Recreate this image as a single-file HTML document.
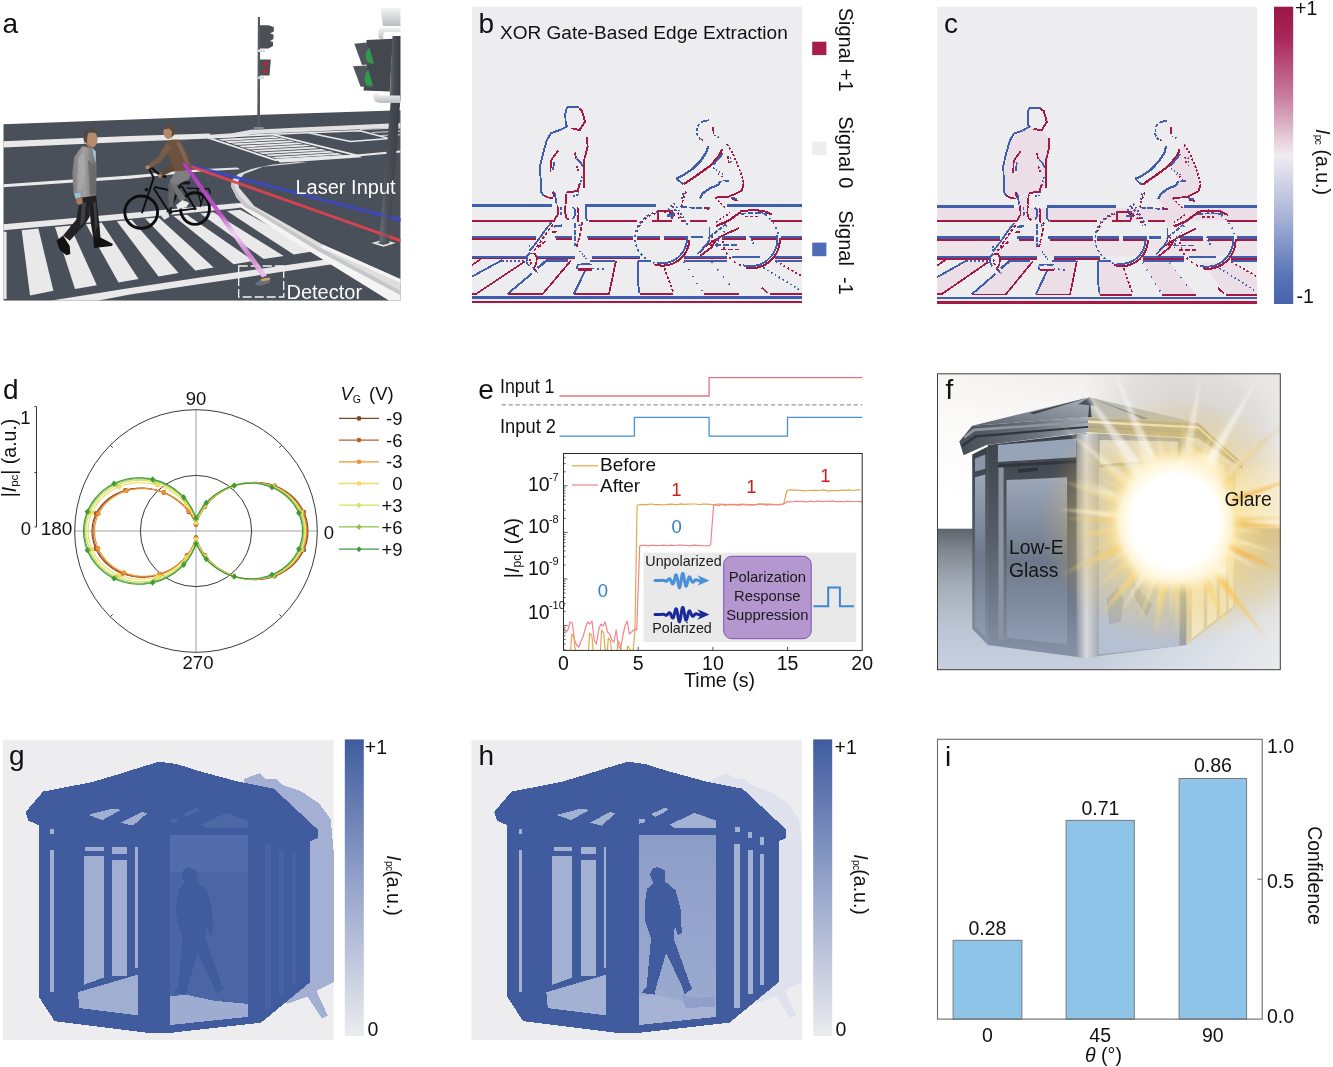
<!DOCTYPE html>
<html lang="en">
<head>
<meta charset="utf-8">
<title>Figure</title>
<style>
html,body{margin:0;padding:0;background:#fff;}
body{width:1333px;height:1067px;overflow:hidden;}
svg{display:block;font-family:"Liberation Sans",sans-serif;fill:#111;}
.pl{font-size:28px;}
.it{font-style:italic;}
</style>
</head>
<body>
<svg width="1333" height="1067" viewBox="0 0 1333 1067">
<rect x="0" y="0" width="1333" height="1067" fill="#ffffff"/>
<!-- panel a -->
<g id="panel-a">
<defs>
<clipPath id="aclip"><rect x="3.3" y="0" width="397.4" height="300.8"/></clipPath>
<linearGradient id="abeam" gradientUnits="userSpaceOnUse" x1="183" y1="163" x2="265" y2="277"><stop offset="0" stop-color="#b23cc2"/><stop offset="0.45" stop-color="#c052c8"/><stop offset="0.62" stop-color="#f3d3f0"/><stop offset="0.8" stop-color="#d684d6"/><stop offset="1" stop-color="#f2c6ee"/></linearGradient>
<linearGradient id="apole" x1="0" y1="0" x2="1" y2="0"><stop offset="0" stop-color="#6a7077"/><stop offset="0.35" stop-color="#4c5157"/><stop offset="1" stop-color="#393d43"/></linearGradient>
<linearGradient id="apipe" x1="0" y1="0" x2="0" y2="1"><stop offset="0" stop-color="#f4f4f4"/><stop offset="1" stop-color="#b9bcc0"/></linearGradient>
<linearGradient id="ajacket" x1="0" y1="0" x2="1" y2="0"><stop offset="0" stop-color="#7d7d7d"/><stop offset="0.5" stop-color="#a0a0a0"/><stop offset="1" stop-color="#6d6d6d"/></linearGradient>
</defs>
<g clip-path="url(#aclip)">
<path d="M3.3 124.2L200 116.9L400.7 110.3V300.8H3.3Z" fill="#4a5059"/>
<path d="M205 135L232 133.2L250.8 129.8L300 127.6L400.7 123V127.6L300 132L252 134.2L236 137.2L210 138.5Z" fill="#e2e2e4"/>
<path d="M3.3 141.2L130 135.9L210 133.4V138.6L130 141.8L3.3 147.6Z" fill="#e9e9ea"/>
<path d="M3.3 184.2L130 175.6L200 169.2L237 167.4L240 169.2L200 171.6L130 178.8L3.3 187.3Z" fill="#e9e9ea"/>
<path d="M207.7 137.7L272.3 134.3L356.9 155.4L275.4 160Z" fill="none" stroke="#e9e9ea" stroke-width="1.8"/>
<path d="M218.2 139.1L273.9 136.2L279.5 137.7L222.9 140.7Z" fill="#e9e9ea"/>
<path d="M224.8 141.3L281.8 138.3L287.4 139.8L229.6 142.9Z" fill="#e9e9ea"/>
<path d="M231.5 143.6L289.7 140.4L295.3 141.9L236.2 145.1Z" fill="#e9e9ea"/>
<path d="M238.2 145.8L297.6 142.5L303.2 144.0L242.9 147.4Z" fill="#e9e9ea"/>
<path d="M244.8 148.0L305.5 144.6L311.1 146.1L249.6 149.6Z" fill="#e9e9ea"/>
<path d="M251.5 150.2L313.4 146.7L319.1 148.2L256.2 151.8Z" fill="#e9e9ea"/>
<path d="M258.2 152.4L321.4 148.9L327.0 150.4L262.9 154.0Z" fill="#e9e9ea"/>
<path d="M264.8 154.7L329.3 151.0L334.9 152.5L269.6 156.2Z" fill="#e9e9ea"/>
<path d="M271.5 156.9L337.2 153.1L342.8 154.6L276.2 158.4Z" fill="#e9e9ea"/>
<path d="M275.4 159L356.9 154.4L362 157.2L300 161.6L280 162.6Z" fill="#e9e9ea"/>
<path d="M307.7 132.8L360 130.8L389.2 138.5L350.7 141.5Z" fill="none" stroke="#e9e9ea" stroke-width="1.4"/>
<path d="M272.3 134.3L307.7 132.8" stroke="#e9e9ea" stroke-width="1.4"/>
<path d="M356.9 155.4L400.7 151.5" stroke="#e9e9ea" stroke-width="2"/>
<path d="M360 129.5L400.7 127.8M372 132.5L400.7 131.2M380 135.5L400.7 134.6" stroke="#c9cacc" stroke-width="1.2"/>
<path d="M3.3 224.3L130 213L233.6 203.6L247 202.5L249.5 206.5L233.6 208.6L130 218.7L3.3 230.2Z" fill="#e9e9ea"/>
<path d="M3.3 231.8H6.6V299H3.3Z" fill="#e9e9ea"/>
<path d="M21.7 230.2L38.4 228.6L53.4 290.8L30 295.4Z" fill="#e9e9ea"/>
<path d="M55 227.1L70 225.7L96.8 285.2L75 288.9Z" fill="#e9e9ea"/>
<path d="M86 224.2L101.8 222.7L138.5 279L118.5 282.4Z" fill="#e9e9ea"/>
<path d="M116.8 221.3L131.8 219.9L178.6 273L158.5 276.4Z" fill="#e9e9ea"/>
<path d="M145.2 218.6L158.5 217.4L213.6 267.4L195.3 270.4Z" fill="#e9e9ea"/>
<path d="M173.6 216.0L186.9 214.7L253.7 261L233.6 264.2Z" fill="#e9e9ea"/>
<path d="M200.3 213.5L213.6 212.2L283.7 256L263.7 259Z" fill="#e9e9ea"/>
<path d="M227 211.0L240.3 209.7L315.4 251L293.7 254.6Z" fill="#e9e9ea"/>
<path d="M50 300.8L130 288L200 277.6L336 258L344 262.5L200 284L130 294.5L97.4 300.8Z" fill="#e9e9ea"/>
<path d="M236 204L246.2 211L280 233L330 264L389.3 300.8H400.7V293L316.7 249L258.6 213.5L245.5 206.5Z" fill="#f4f4f4"/>
<path d="M296.3 162.3L273.1 164.5L251.3 168.9L238.2 174L231.7 180.5L231 186.3L236.8 197.9L245.5 207.4L258.6 213.9L316.7 250.2L400.7 295.3V279.3L322.5 244.4L276 218.3L254.2 205.9L247.7 197.9L239 187.8L238.2 181.2L244.1 174L262.9 166.7L308 162.3Z" fill="#dedede"/>
<path d="M231.7 180.5L231 186.3L236.8 197.9L245.5 207.4L258.6 213.9L316.7 250.2L400.7 295.3V291L318 246.5L259.5 211L247.5 204.5L239.5 196L234.2 186L234.8 180.5Z" fill="#c6c7c9"/>
<path d="M322.5 244.4L400.7 279.3V283L321 247.5Z" fill="#f3f3f3"/>
<path d="M183.5 163.8L400.7 220" stroke="#3c49c4" stroke-width="3" opacity="0.92"/>
<path d="M183.5 163.8L400.7 240.7" stroke="#e2434f" stroke-width="3" opacity="0.92"/>
<path d="M371.2 243L383.5 239.7L395.8 243L383.5 246.8Z" fill="#e4e4e4"/><path d="M377 243L383.5 241.3L390 243L383.5 245Z" fill="#50555c"/>
<path d="M391.2 95L400.7 95L389.3 243L379.3 242Z" fill="url(#apole)"/>
<path d="M392.5 36H400.7V100H389.6Z" fill="url(#apole)"/>
<path d="M376 213.5L400.7 220" stroke="#3c49c4" stroke-width="3" opacity="0.55"/>
<path d="M376 231.9L400.7 240.7" stroke="#e2434f" stroke-width="3" opacity="0.55"/>
<g font-size="20px" fill="#fafafa"><text x="295.5" y="193.6">Laser Input</text><text x="286.5" y="298.6">Detector</text></g>
<path d="M238.7 266H283.7V297H238.7Z" fill="none" stroke="#f4f4f4" stroke-width="1.3" stroke-dasharray="9 3"/>
<ellipse cx="263" cy="282.5" rx="8" ry="2.6" fill="#6b6f78" transform="rotate(-12 263 282.5)"/><ellipse cx="265.5" cy="279.3" rx="5" ry="1.4" fill="#caa46a" transform="rotate(-10 265.5 279.3)"/>
<path d="M257.9 17H260V127.6H257.2Z" fill="#565b62"/><path d="M254 127.3H263.5V128.8H254Z" fill="#9a9da2"/>
<path d="M260 25.3H268.5L273.8 27V31.5L270 33.5L273.5 34.5V39L270 41L273 42V46L268.5 48.6H260Z" fill="#4b5057"/>
<path d="M259.4 59.6H270.8L269.5 75.4H259.4Z" fill="#4b5057"/><circle cx="265.6" cy="64" r="2.2" fill="#c5242b"/><circle cx="265.2" cy="71.3" r="2.2" fill="#c5242b"/>
<path d="M258 49.5H265V52H258ZM258 76.5H264V79H258Z" fill="#d9dadc"/>
<path d="M380.5 8H400.7V26H383Z" fill="url(#apipe)"/>
<path d="M378.5 38V32.5Q378.5 27.5 384.5 27.5H400.7V32H385.5Q383.3 32 383.3 34.5V40Z" fill="url(#apipe)"/>
<path d="M373.5 93V96.5Q373.5 103 380 103H400.7V95.5H381.5Q378.5 95.5 378.5 93Z" fill="url(#apipe)"/>
<path d="M366.5 40L392.8 38.8L389.8 91.5L363.5 90.5L366.5 65Z" fill="#43484f"/>
<path d="M354.3 43.8L366.5 42.5L373.5 64L362 65Z" fill="#50555c"/><path d="M353 66.2L366 65.5L372.5 88L360.5 86.5Z" fill="#50555c"/>
<path d="M369.3 47.5Q362.5 55 368 62.5L374 63.8Z" fill="#2f9a4c"/><path d="M368.3 69.5Q361.5 78 367 85.5L373 86Z" fill="#2f9a4c"/>
<g fill="none" stroke="#0e0e0e">
<ellipse cx="141.2" cy="212.2" rx="16.4" ry="16.2" stroke-width="2.9"/><ellipse cx="195" cy="208.6" rx="14.5" ry="15.8" stroke-width="2.9"/>
<path d="M148.4 167.9L153.7 177.7L148 195L141.9 213.2M154.3 186.9L172.7 190.9L181 186M153.7 188.2L168.1 210.6M181.2 183L169.4 211.9M169.4 211.9L195 208.6M181.8 186L195 208.6" stroke-width="1.9"/>
<path d="M147.1 166.6L152 168.2L158 173.5L165.5 177.1" stroke-width="2.2" stroke-linecap="round"/>
<path d="M186.5 188.2L208.8 188.9L210.5 193.5M197 188.6L201.5 205M205.5 189L200 207" stroke-width="1.3"/>
</g>
<path d="M179.3 181L190.4 181.6L190 184.4L180.5 184.6Z" fill="#1a1a1a"/><circle cx="146.5" cy="189.6" r="1.9" fill="#151515"/><circle cx="169.4" cy="211.9" r="2.8" fill="#1c1c1c"/><circle cx="195" cy="208.6" r="1.6" fill="#1c1c1c"/>
<path d="M168.1 183L174.7 185.6L173.4 206.6L168.8 207.9Z" fill="#626468"/>
<path d="M176 170.5L191.1 170.5L189.1 179.1L176 185.6L169.4 181.7Z" fill="#7d7f83"/>
<path d="M169.4 181.7L176.6 185.6L186.5 198.7L180 201.4Z" fill="#707276"/>
<path d="M176 205.3L182.5 200L189.1 202.7L186.5 207.3L178 209.2Z" fill="#e6ecea"/><path d="M160.9 215.8L168.1 211.9L169.4 217.1L164.2 219.7Z" fill="#dde4e2"/>
<path d="M181.2 152.8L186 158L172 171.5L160.5 177L158.6 174.5L170 165Z" fill="#5f4636"/>
<path d="M165.5 142.3L172 139.5L179.9 139.7L186.5 152.8L191.1 164.6L191.7 169.9L176 171.2L172 165.9L168.1 152.8Z" fill="#6e5240"/>
<path d="M176 141L181 143.5L187 157L189.5 166L184 160L179 149Z" fill="#8a6a52" opacity="0.8"/>
<path d="M165.8 143.5L171.5 148L161 161.5L149 169L146.6 166L158 157Z" fill="#7a5b46"/>
<circle cx="147.6" cy="167.3" r="2.1" fill="#b08868"/><circle cx="160" cy="175.7" r="2" fill="#a98062"/>
<ellipse cx="168.6" cy="132.4" rx="5.2" ry="6.6" fill="#b48a6b"/><path d="M164.2 129.5Q165 125 170 125.2Q175.2 125.6 174.8 131.5Q174.5 136 171.5 137L172 131.5L169 128.5Z" fill="#5e4a3a"/>
<path d="M181.8 163.6L186 163L267 275.5L262 277.5Z" fill="url(#abeam)" opacity="0.94"/>
<path d="M80.2 198.7L89.4 201.4L89.4 217.1L85.4 223.7L69.7 240.7L63.1 235.5L76.2 219.7Z" fill="#222224"/>
<path d="M89.4 201.4L95.9 196.1L99.2 222.4L100.5 238.1L93.3 238.1L90.7 222.4Z" fill="#1c1c1e"/>
<path d="M79.5 197L96.2 194.5L96.5 204L89.4 206L80 203Z" fill="#222224"/>
<path d="M82 203L86 202.5L84.5 222L80 226Z" fill="#4a4a4d" opacity="0.8"/><path d="M93 203L96 202L97.5 225L95.5 232Z" fill="#454548" opacity="0.8"/>
<path d="M56.6 240.7L63.1 235.5L69.7 246L70.3 253.9L66.4 255.2L59.8 249.9Z" fill="#121212"/>
<path d="M93.3 238.1L100.5 237.5L113 244L111.7 246L94 248Z" fill="#121212"/>
<path d="M82.2 146.2L87 147L92 148.2L95.3 151.5L96.6 165.9L96.2 195.5L82 197.5L75.6 197.4L73.6 193.5L72.3 172.5L74.3 156.7Z" fill="url(#ajacket)"/>
<path d="M78 158L83 152L85 170L82 190L77 192Z" fill="#b4b4b4" opacity="0.55"/><path d="M88 160L95 166L95.5 194L90 195Z" fill="#5e5e60" opacity="0.6"/>
<path d="M92 147.6L95.9 151.5L95.9 163.3L93.5 156Z" fill="#9ac1d6"/><path d="M74.3 193.5L80.5 192.5L80.8 197.6L75.2 198.4Z" fill="#9ac1d6"/>
<path d="M75.6 198L82.2 197.4L82.8 203L79.5 205L76.5 203Z" fill="#a67c60"/>
<ellipse cx="91.2" cy="139" rx="6.3" ry="8.6" fill="#a8795c"/><path d="M88 133Q91 131.5 96 134L97 143Q95 147 92 147.6Q88 146 87.5 140Z" fill="#b78a6c"/>
<path d="M83.5 139Q82.8 128.6 91 128.3Q98.6 128.4 98 135.5L95.5 132.8L89 132.5Q86.8 134.5 87 141.5L84.8 143.5Z" fill="#4a4a4c"/>
</g>
<text class="pl" x="2.5" y="32.8">a</text>
</g>
<!-- panel b -->
<g id="panel-b">
<rect x="472.0" y="6.7" width="330.0" height="296.7" fill="#ededef"/>
<g id="edges" fill="none" stroke-linejoin="round" shape-rendering="crispEdges">
<path d="M472.0 205.8L551.5 205.8" stroke="#3f5eab" stroke-width="3.00"/>
<path d="M585.4 205.8L656.0 205.8" stroke="#3f5eab" stroke-width="3.00"/>
<path d="M727.0 205.8L802.0 205.8" stroke="#3f5eab" stroke-width="3.00"/>
<path d="M472.0 220.7L554.8 220.7" stroke="#a41a45" stroke-width="1.80"/>
<path d="M588.6 220.7L637.0 220.7" stroke="#a41a45" stroke-width="1.80"/>
<path d="M652.0 220.7L672.0 220.7" stroke="#a41a45" stroke-width="1.80"/>
<path d="M689.5 220.7L707.0 220.7" stroke="#a41a45" stroke-width="1.80"/>
<path d="M770.5 220.7L802.0 220.7" stroke="#a41a45" stroke-width="1.80"/>
<path d="M472.0 237.0L536.3 237.0" stroke="#3f5eab" stroke-width="2.80"/>
<path d="M554.8 237.0L572.0 237.0" stroke="#3f5eab" stroke-width="2.80"/>
<path d="M586.7 237.0L632.6 237.0" stroke="#3f5eab" stroke-width="2.80"/>
<path d="M637.0 237.0L660.0 237.0" stroke="#3f5eab" stroke-width="2.80"/>
<path d="M664.0 237.0L688.0 237.0" stroke="#3f5eab" stroke-width="2.80"/>
<path d="M691.0 237.0L703.0 237.0" stroke="#3f5eab" stroke-width="2.80"/>
<path d="M722.0 237.0L746.0 237.0" stroke="#3f5eab" stroke-width="2.80"/>
<path d="M751.0 237.0L776.0 237.0" stroke="#3f5eab" stroke-width="2.80"/>
<path d="M781.0 237.0L802.0 237.0" stroke="#3f5eab" stroke-width="2.80"/>
<path d="M472.0 239.2L536.3 239.2" stroke="#a41a45" stroke-width="1.80"/>
<path d="M556.0 239.2L572.0 239.2" stroke="#a41a45" stroke-width="1.80"/>
<path d="M588.0 239.2L632.6 239.2" stroke="#a41a45" stroke-width="1.80"/>
<path d="M637.0 239.2L660.0 239.2" stroke="#a41a45" stroke-width="1.80"/>
<path d="M664.0 239.2L688.0 239.2" stroke="#a41a45" stroke-width="1.80"/>
<path d="M722.0 239.2L746.0 239.2" stroke="#a41a45" stroke-width="1.80"/>
<path d="M751.0 239.2L776.0 239.2" stroke="#a41a45" stroke-width="1.80"/>
<path d="M781.0 239.2L802.0 239.2" stroke="#a41a45" stroke-width="1.80"/>
<path d="M472.0 256.8L527.0 256.8" stroke="#3f5eab" stroke-width="1.84"/>
<path d="M537.0 256.8L575.0 256.8" stroke="#3f5eab" stroke-width="1.84"/>
<path d="M592.0 256.8L640.0 256.8" stroke="#3f5eab" stroke-width="1.84"/>
<path d="M684.0 256.8L727.0 256.8" stroke="#3f5eab" stroke-width="1.84"/>
<path d="M732.0 256.8L760.0 256.8" stroke="#3f5eab" stroke-width="1.84"/>
<path d="M775.0 256.8L802.0 256.8" stroke="#3f5eab" stroke-width="1.84"/>
<path d="M472.0 258.4L527.0 258.4" stroke="#a41a45" stroke-width="1.80"/>
<path d="M537.0 258.4L575.0 258.4" stroke="#a41a45" stroke-width="1.80"/>
<path d="M592.0 258.4L640.0 258.4" stroke="#a41a45" stroke-width="1.80"/>
<path d="M684.0 258.4L727.0 258.4" stroke="#a41a45" stroke-width="1.80"/>
<path d="M775.0 258.4L802.0 258.4" stroke="#a41a45" stroke-width="1.80"/>
<path d="M472.0 297.5L802.0 297.5" stroke="#3f5eab" stroke-width="2.30"/>
<path d="M472.0 302.0L802.0 302.0" stroke="#a41a45" stroke-width="2.80"/>
<path d="M587.0 206.0L585.6 208.0L585.6 218.0L587.5 220.7" stroke="#3f5eab" stroke-width="1.80"/>
<path d="M472.0 265.1L481.0 259.0" stroke="#a41a45" stroke-width="1.80"/>
<path d="M472.0 276.6L502.0 260.2" stroke="#3f5eab" stroke-width="1.95"/>
<path d="M502.0 260.7L524.0 260.7" stroke="#3f5eab" stroke-width="1.80" stroke-dasharray="2 2"/>
<path d="M472.0 293.8L476.4 293.8L525.0 261.3" stroke="#a41a45" stroke-width="1.84"/>
<path d="M507.6 293.8L532.0 273.5" stroke="#3f5eab" stroke-width="2.07"/>
<path d="M537.5 268.0L546.5 260.7L568.2 260.7" stroke="#3f5eab" stroke-width="2.53"/>
<path d="M507.6 294.0L542.7 294.0L570.8 260.7" stroke="#a41a45" stroke-width="1.80"/>
<path d="M573.9 293.8L585.4 270.2" stroke="#3f5eab" stroke-width="2.07"/>
<path d="M590.0 260.7L615.4 260.7" stroke="#3f5eab" stroke-width="1.80"/>
<path d="M592.0 268.5L607.0 269.5" stroke="#3f5eab" stroke-width="1.80" stroke-dasharray="2 3"/>
<path d="M573.9 294.0L609.0 294.0L616.0 260.7" stroke="#a41a45" stroke-width="1.80"/>
<path d="M638.2 260.5L638.2 284.0L639.5 293.0" stroke="#3f5eab" stroke-width="1.80"/>
<path d="M638.2 260.8L651.0 260.8" stroke="#3f5eab" stroke-width="1.80"/>
<path d="M640.0 294.2L673.2 294.2" stroke="#a41a45" stroke-width="1.80"/>
<path d="M664.4 267.9L673.2 292.2" stroke="#a41a45" stroke-width="1.80" stroke-dasharray="2.5 2"/>
<path d="M704.3 294.2L739.4 294.2" stroke="#a41a45" stroke-width="1.80"/>
<path d="M770.4 294.2L802.0 294.2" stroke="#a41a45" stroke-width="1.80"/>
<path d="M761.7 287.5L767.7 292.9" stroke="#a41a45" stroke-width="1.80"/>
<path d="M759.6 265.2L798.8 289.5" stroke="#3f5eab" stroke-width="1.80" stroke-dasharray="1.5 3"/>
<path d="M775.8 261.2L801.5 276.0" stroke="#a41a45" stroke-width="1.80" stroke-dasharray="2 2.5"/>
<path d="M684.0 262.0L702.0 291.0" stroke="#3f5eab" stroke-width="1.80" stroke-dasharray="1.2 7"/>
<path d="M712.0 262.0L732.0 288.0" stroke="#3f5eab" stroke-width="1.80" stroke-dasharray="1.2 8"/>
<path d="M684.0 260.8L727.0 260.8" stroke="#3f5eab" stroke-width="1.80"/>
<path d="M775.0 260.8L802.0 260.8" stroke="#3f5eab" stroke-width="1.80"/>
<path d="M578.8 107.4L567.6 107.4L566.0 110.0L565.4 113.6L565.6 124.9L567.4 126.2L560.0 130.0L550.9 133.1L546.8 140.4L544.0 150.0L542.2 156.9L540.2 165.1L540.6 180.0L541.1 191.9L543.7 195.5" stroke="#3f5eab" stroke-width="1.95"/>
<path d="M578.8 108.5L581.9 110.5L583.5 116.0L585.0 121.8L582.0 126.0L579.8 130.0L571.5 128.3" stroke="#a41a45" stroke-width="1.95"/>
<path d="M543.7 195.5L548.0 197.5L553.0 198.1" stroke="#a41a45" stroke-width="1.84"/>
<path d="M587.0 137.3L587.6 146.5L586.0 153.0L584.4 158.9L584.0 175.0L584.4 187.8" stroke="#a41a45" stroke-width="1.84"/>
<path d="M558.1 150.7L554.0 156.0L550.9 161.0L550.4 172.3" stroke="#a41a45" stroke-width="1.80"/>
<path d="M554.2 162.0L553.0 170.3" stroke="#3f5eab" stroke-width="1.80"/>
<path d="M575.0 152.5L576.0 158.5" stroke="#a41a45" stroke-width="1.80"/>
<path d="M577.0 159.0L581.0 163.0L583.0 167.0" stroke="#3f5eab" stroke-width="1.80"/>
<path d="M576.5 166.0L578.5 172.0" stroke="#a41a45" stroke-width="1.80" stroke-dasharray="2 1.5"/>
<path d="M582.0 176.5L579.5 186.0" stroke="#3f5eab" stroke-width="1.80" stroke-dasharray="2 1.5"/>
<path d="M566.4 192.6L577.7 191.0L579.3 184.7" stroke="#a41a45" stroke-width="1.95"/>
<path d="M573.0 196.0L577.5 195.0L579.0 190.0" stroke="#3f5eab" stroke-width="1.80" stroke-dasharray="2 1.5"/>
<path d="M554.5 192.5L555.4 197.0L556.6 204.0" stroke="#3f5eab" stroke-width="1.84"/>
<path d="M553.0 191.5L554.0 197.0" stroke="#a41a45" stroke-width="1.80"/>
<path d="M566.4 194.0L565.6 204.0" stroke="#a41a45" stroke-width="1.84"/>
<path d="M557.5 205.0L558.0 214.0L554.5 220.0" stroke="#a41a45" stroke-width="1.80"/>
<path d="M561.0 207.0L561.5 217.0" stroke="#3f5eab" stroke-width="1.80" stroke-dasharray="3 2"/>
<path d="M565.5 205.0L565.0 212.0L566.5 218.0L569.0 219.5" stroke="#a41a45" stroke-width="1.80"/>
<path d="M551.5 222.5L546.0 229.0L539.0 239.0L532.0 248.0L529.5 251.0" stroke="#3f5eab" stroke-width="1.80"/>
<path d="M553.0 224.5L548.0 231.0L541.0 241.0L536.0 248.0" stroke="#a41a45" stroke-width="1.80" stroke-dasharray="3 2"/>
<path d="M552.0 232.0L557.0 231.5" stroke="#a41a45" stroke-width="1.80"/>
<path d="M554.0 226.5L562.0 225.5" stroke="#3f5eab" stroke-width="2.30"/>
<path d="M545.5 241.0L538.0 247.5L534.0 250.0" stroke="#a41a45" stroke-width="1.80" stroke-dasharray="4 2"/>
<path d="M529.5 245.0L529.5 252.0" stroke="#3f5eab" stroke-width="1.80" stroke-dasharray="2 1.5"/>
<path d="M572.5 207.0L575.0 209.5L575.2 215.0L573.0 219.0" stroke="#3f5eab" stroke-width="1.80"/>
<path d="M577.5 207.5L578.5 213.0L578.0 222.0" stroke="#a41a45" stroke-width="1.80"/>
<path d="M575.2 223.0L575.2 246.0" stroke="#3f5eab" stroke-width="1.80" stroke-dasharray="5 1.5"/>
<path d="M582.0 222.0L580.5 232.0L578.0 243.0L576.5 247.0" stroke="#a41a45" stroke-width="1.80" stroke-dasharray="4 1.5"/>
<path d="M579.0 226.0L581.5 223.0" stroke="#3f5eab" stroke-width="1.80" stroke-dasharray="2 1"/>
<path d="M530.0 253.0L527.0 256.0L526.5 262.0L529.0 266.0" stroke="#3f5eab" stroke-width="1.80"/>
<path d="M531.0 253.5L535.0 253.5L537.0 258.0L536.0 264.0L533.5 268.5L537.0 272.0" stroke="#a41a45" stroke-width="1.80"/>
<path d="M533.0 267.0L535.5 270.5L538.0 272.5" stroke="#3f5eab" stroke-width="1.80" stroke-dasharray="2 1.5"/>
<path d="M530.0 259.0L531.5 265.0" stroke="#a41a45" stroke-width="1.80" stroke-dasharray="2 1.5"/>
<path d="M580.0 251.0L586.0 259.0" stroke="#3f5eab" stroke-width="1.80" stroke-dasharray="1.5 1.5"/>
<path d="M577.0 265.0L583.0 264.0L592.0 264.5" stroke="#3f5eab" stroke-width="1.80"/>
<path d="M578.0 269.5L592.0 269.5" stroke="#a41a45" stroke-width="2.53"/>
<path d="M576.5 266.0L577.5 269.5" stroke="#3f5eab" stroke-width="1.80"/>
<path d="M708.7 120.3L703.5 121.2L701.3 122.3" stroke="#3f5eab" stroke-width="1.95"/>
<path d="M699.3 124.0L697.4 126.7L696.9 133.6L698.5 137.0L700.4 139.5" stroke="#3f5eab" stroke-width="1.80" stroke-dasharray="3 1.8"/>
<path d="M701.6 140.2L703.4 139.4" stroke="#a41a45" stroke-width="1.84"/>
<path d="M713.1 126.7L713.6 133.6" stroke="#a41a45" stroke-width="1.80"/>
<path d="M714.5 135.5L719.5 138.0" stroke="#3f5eab" stroke-width="1.80" stroke-dasharray="1.3 2.2"/>
<path d="M708.2 145.9L706.3 152.3L700.4 161.2L692.5 169.1L683.6 175.0L676.2 178.4" stroke="#3f5eab" stroke-width="2.30"/>
<path d="M676.2 178.4L679.0 181.0L683.6 184.3" stroke="#3f5eab" stroke-width="1.80"/>
<path d="M722.0 148.9L720.0 154.3L711.2 165.1L697.4 175.0L683.6 184.3" stroke="#a41a45" stroke-width="2.30"/>
<path d="M723.0 153.3L713.1 165.1" stroke="#3f5eab" stroke-width="1.84"/>
<path d="M726.9 144.0L732.8 153.3L738.7 167.1L742.5 178.0L743.7 183.5" stroke="#a41a45" stroke-width="1.80" stroke-dasharray="2.2 1.8"/>
<path d="M743.7 183.5L741.7 190.7L735.0 194.0L728.9 196.6L715.1 197.6" stroke="#a41a45" stroke-width="1.84"/>
<path d="M727.9 156.3L728.9 164.1" stroke="#a41a45" stroke-width="1.80" stroke-dasharray="2.5 1.5"/>
<path d="M730.5 157.0L731.5 165.0" stroke="#3f5eab" stroke-width="1.80" stroke-dasharray="1.5 2.5"/>
<path d="M721.0 180.9L718.1 184.8L709.2 188.7L702.3 193.7L699.9 198.6" stroke="#3f5eab" stroke-width="2.30"/>
<path d="M723.0 180.5L728.9 180.9" stroke="#3f5eab" stroke-width="1.80"/>
<path d="M713.1 168.1L724.0 175.0" stroke="#3f5eab" stroke-width="1.80" stroke-dasharray="1.5 2"/>
<path d="M718.0 174.0L725.5 178.5" stroke="#a41a45" stroke-width="1.80" stroke-dasharray="1.2 3"/>
<path d="M686.1 191.7L683.0 199.0L681.2 207.4" stroke="#a41a45" stroke-width="1.80" stroke-dasharray="2.5 2"/>
<path d="M683.5 193.0L681.5 201.0" stroke="#3f5eab" stroke-width="1.80" stroke-dasharray="2 2.5"/>
<path d="M715.1 197.6L725.0 207.4" stroke="#a41a45" stroke-width="1.80" stroke-dasharray="2 2"/>
<path d="M681.2 207.0L700.0 208.2L711.2 208.4" stroke="#3f5eab" stroke-width="1.80" stroke-dasharray="6 1.5"/>
<path d="M704.0 207.5L709.0 209.0" stroke="#a41a45" stroke-width="1.84"/>
<path d="M731.9 199.1L737.8 200.6" stroke="#a41a45" stroke-width="1.80"/>
<path d="M731.0 197.5L737.0 199.0" stroke="#3f5eab" stroke-width="1.80"/>
<path d="M674.0 203.0L680.0 212.0L688.0 226.0" stroke="#3f5eab" stroke-width="1.80" stroke-dasharray="2 2"/>
<path d="M672.0 206.0L678.0 213.0L684.0 222.0" stroke="#a41a45" stroke-width="1.80" stroke-dasharray="2 2.5"/>
<path d="M670.5 205.0L676.5 211.5" stroke="#3f5eab" stroke-width="1.80" stroke-dasharray="1.5 1.5"/>
<path d="M657.7 220.0L657.7 211.2L671.9 211.2L671.9 219.0" stroke="#a41a45" stroke-width="1.84"/>
<path d="M667.0 215.5L673.5 215.5" stroke="#3f5eab" stroke-width="2.30"/>
<path d="M668.0 209.0L675.0 214.5" stroke="#3f5eab" stroke-width="1.80" stroke-dasharray="2 1"/>
<path d="M638.7 251.5L637.6 249.5L636.8 247.5L636.1 245.4L635.6 243.2L635.2 241.0L635.1 238.8L635.2 236.6L635.4 234.3L635.8 232.2L636.4 230.0L637.2 227.9L638.1 225.9L639.2 224.0L640.5 222.2L641.9 220.4L643.4 218.9L645.1 217.4L646.9 216.1L648.8 214.9L650.8 213.9L652.9 213.1L655.0 212.5L657.2 212.0L659.4 211.7" stroke="#3f5eab" stroke-width="1.80" stroke-dasharray="2.5 2.5"/>
<path d="M637.2 231.6L637.5 230.4L637.9 229.3L638.4 228.1L638.9 227.0L639.5 225.9L640.1 224.8L640.8 223.8L641.5 222.8L642.3 221.8L643.1 220.9L644.0 220.0L644.9 219.2L645.8 218.4L646.8 217.6L647.8 216.9L648.9 216.3L650.0 215.7L651.1 215.1L652.2 214.6L653.4 214.2L654.5 213.8L655.7 213.5L656.9 213.2L658.2 213.0" stroke="#a41a45" stroke-width="1.80" stroke-dasharray="2 3"/>
<path d="M659.4 264.1L658.4 264.0L657.4 263.8L656.3 263.6L655.3 263.4L654.3 263.1L653.3 262.8L652.4 262.5L651.4 262.1L650.5 261.6L649.5 261.2L648.6 260.7L647.7 260.1L646.9 259.6L646.0 258.9L645.2 258.3L644.4 257.6L643.7 256.9L642.9 256.2L642.2 255.4L641.5 254.6L640.9 253.8L640.3 253.0L639.7 252.1L639.2 251.2" stroke="#3f5eab" stroke-width="1.80" stroke-dasharray="2 3"/>
<path d="M686.9 237.3L686.9 239.2L686.7 241.1L686.5 242.9L686.0 244.7L685.5 246.5L684.8 248.2L684.0 249.9L683.1 251.6L682.0 253.1L680.9 254.6L679.6 255.9L678.2 257.2L676.8 258.4L675.2 259.5L673.6 260.4L671.9 261.2L670.2 261.9L668.4 262.5L666.6 262.9L664.8 263.2L662.9 263.4L661.0 263.4L659.2 263.3L657.3 263.0" stroke="#3f5eab" stroke-width="1.95"/>
<path d="M689.4 239.7L689.2 241.8L688.9 243.8L688.5 245.8L687.8 247.8L687.1 249.7L686.2 251.6L685.1 253.4L683.9 255.1L682.6 256.6L681.2 258.1L679.6 259.5L678.0 260.8L676.2 261.9L674.4 262.9L672.5 263.7L670.6 264.4L668.6 264.9L666.6 265.3L664.5 265.5L662.4 265.6L660.4 265.5L658.3 265.3L656.3 264.9L654.3 264.3" stroke="#a41a45" stroke-width="2.07"/>
<path d="M664.0 211.8L665.1 211.9L666.1 212.1L667.2 212.3L668.2 212.5L669.2 212.8L670.2 213.1L671.2 213.5L672.2 213.9L673.2 214.3L674.1 214.8L675.0 215.3L675.9 215.9L676.8 216.4L677.7 217.1L678.5 217.7L679.3 218.4L680.1 219.1L680.8 219.9L681.6 220.7L682.2 221.5L682.9 222.3L683.5 223.2L684.1 224.0L684.6 224.9" stroke="#a41a45" stroke-width="1.80" stroke-dasharray="2 3"/>
<path d="M777.1 235.2L777.4 237.4L777.4 239.7L777.2 241.9L776.9 244.1L776.4 246.3L775.7 248.4L774.9 250.5L773.8 252.5L772.6 254.4L771.3 256.1L769.8 257.8L768.2 259.4L766.5 260.8L764.6 262.0L762.7 263.2L760.7 264.1L758.6 264.9L756.4 265.5L754.2 265.9L752.0 266.1L749.8 266.2L747.6 266.1L745.3 265.8L743.2 265.3" stroke="#3f5eab" stroke-width="1.95"/>
<path d="M779.8 238.1L779.8 240.2L779.7 242.4L779.4 244.5L778.9 246.6L778.3 248.7L777.6 250.7L776.7 252.6L775.6 254.5L774.4 256.3L773.1 258.0L771.7 259.5L770.2 261.0L768.5 262.4L766.7 263.6L764.9 264.7L763.0 265.7L761.0 266.5L759.0 267.1L756.9 267.6L754.8 268.0L752.6 268.2L750.5 268.2L748.4 268.1L746.2 267.8" stroke="#a41a45" stroke-width="2.07"/>
<path d="M760.1 212.7L761.2 213.1L762.3 213.6L763.4 214.2L764.5 214.8L765.5 215.4L766.6 216.1L767.5 216.8L768.5 217.6L769.4 218.4L770.3 219.2L771.1 220.1L771.9 221.0L772.7 222.0L773.4 222.9L774.1 224.0L774.7 225.0L775.3 226.1L775.9 227.2L776.4 228.3L776.8 229.4L777.2 230.6L777.5 231.8L777.8 232.9L778.1 234.1" stroke="#3f5eab" stroke-width="1.80" stroke-dasharray="1.5 4"/>
<path d="M740.9 265.3L739.7 264.8L738.5 264.3L737.3 263.7L736.1 263.0L735.0 262.3L733.9 261.6L732.9 260.8L731.9 259.9L730.9 259.0L730.0 258.1L729.1 257.1L728.3 256.0L727.5 255.0L726.8 253.9L726.1 252.7L725.5 251.6L724.9 250.4L724.4 249.1L724.0 247.9L723.6 246.6L723.2 245.4L723.0 244.1L722.8 242.8L722.6 241.4" stroke="#a41a45" stroke-width="1.80" stroke-dasharray="2 4"/>
<path d="M723.0 239.0L723.0 237.6L723.1 236.2L723.3 234.8L723.6 233.4L723.9 232.1L724.3 230.7L724.7 229.4L725.2 228.1L725.8 226.8L726.5 225.6L727.2 224.4L728.0 223.2L728.8 222.1L729.7 221.0L730.6 220.0L731.6 219.0L732.7 218.1L733.8 217.2L734.9 216.4L736.1 215.6L737.3 214.9L738.5 214.2L739.8 213.7L741.1 213.2" stroke="#3f5eab" stroke-width="1.80" stroke-dasharray="1.5 5"/>
<path d="M740.0 211.5L752.0 210.0L764.0 211.0L772.0 214.5" stroke="#a41a45" stroke-width="2.07"/>
<path d="M741.0 214.0L754.0 212.5L768.0 214.0" stroke="#3f5eab" stroke-width="1.80" stroke-dasharray="5 2"/>
<path d="M745.0 216.5L760.0 216.5" stroke="#a41a45" stroke-width="1.80" stroke-dasharray="3 2"/>
<path d="M741.0 212.0L728.0 221.0L716.0 226.0" stroke="#a41a45" stroke-width="2.30"/>
<path d="M739.0 228.0L722.0 236.0L704.0 247.0L699.0 253.0" stroke="#a41a45" stroke-width="1.84"/>
<path d="M726.0 224.0L716.0 232.0L708.0 238.0" stroke="#3f5eab" stroke-width="1.84" stroke-dasharray="4 1.5"/>
<path d="M709.5 227.0L709.5 240.0L703.0 249.0L697.5 254.0" stroke="#3f5eab" stroke-width="1.84"/>
<path d="M716.0 240.0L712.0 247.0L704.0 253.0L700.0 256.0" stroke="#a41a45" stroke-width="1.84"/>
<path d="M715.0 245.0L738.0 245.0" stroke="#3f5eab" stroke-width="1.80" stroke-dasharray="6 2"/>
<path d="M721.0 249.5L739.0 249.5" stroke="#a41a45" stroke-width="1.80" stroke-dasharray="5 2"/>
<path d="M719.0 236.0L716.5 247.0" stroke="#3f5eab" stroke-width="1.80" stroke-dasharray="2 1.5"/>
<path d="M712.5 236.0L710.5 248.0" stroke="#a41a45" stroke-width="1.80" stroke-dasharray="2 2"/>
<path d="M750.0 236.0L752.5 242.0L754.0 245.0" stroke="#3f5eab" stroke-width="1.80" stroke-dasharray="2 1.5"/>
<path d="M716.0 222.0L722.0 218.0L730.0 213.0" stroke="#a41a45" stroke-width="1.80" stroke-dasharray="2 2"/>
</g>
<text class="pl" x="478.5" y="32.7">b</text>
<text font-size="19.05px" x="500" y="39.3">XOR Gate-Based Edge Extraction</text>
<rect x="812.2" y="41.7" width="14.2" height="13.4" fill="#a61d4e"/>
<rect x="812.2" y="141.8" width="14.2" height="13.4" fill="#ededef"/>
<rect x="812.2" y="242.6" width="14.2" height="13.6" fill="#4f6db6"/>
<g font-size="20px" text-anchor="middle">
<text transform="translate(839 49.7) rotate(90)">Signal +1</text>
<text transform="translate(839 152.3) rotate(90)">Signal 0</text>
<text transform="translate(839 252.5) rotate(90)">Signal&#160;&#160;-1</text>
</g></g>
<!-- panel c -->
<g id="panel-c">
<defs><linearGradient id="cbar" x1="0" y1="0" x2="0" y2="1"><stop offset="0" stop-color="#9a1747"/><stop offset="0.1" stop-color="#a82558"/><stop offset="0.3" stop-color="#c87c9d"/><stop offset="0.5" stop-color="#f1ecf1"/><stop offset="0.7" stop-color="#aab6d8"/><stop offset="0.9" stop-color="#5b75b8"/><stop offset="1" stop-color="#4863ae"/></linearGradient></defs>
<rect x="937.2" y="6.7" width="319.89999999999986" height="297.3" fill="#ededef"/>
<g transform="translate(937.2 0.5) scale(0.9694 1) translate(-472.0 0)">
<g opacity="0.9" fill="#ecdde6">
<rect x="472.0" y="207.5" width="330.0" height="12.5"/>
<rect x="472.0" y="240" width="330.0" height="16" fill="#ede4ea"/>
<path d="M472 276.6L502 260.7L525 261.3L476.4 293.8L472 293.8Z"/>
<path d="M507.6 293.8L546.5 260.7L570.8 260.7L542.7 294Z"/>
<path d="M573.9 293.8L589 260.7L616 260.7L609 294Z"/>
<path d="M638.2 260.7L664 262L673.2 294L638.2 294Z"/>
<path d="M704 294L684 262L712 262L739 294Z"/>
<path d="M770 294L745 262L775 262L802 278L802 294Z"/>
<path d="M567.5 126L551 133L547 140L540 165L541 192L553 198L566 192.5L578 191L584.4 188L587.5 146L587 137L580 130Z"/>
<path d="M556 198L566 194L565.5 220L558 220Z"/>
<path d="M722 149L727 144L738.7 167L743.7 183L741 190.5L729 196.5L715 197.6L700 198.5L702.5 193.5L709 188.7L718 184.8L721 181L713 165Z"/>
<path d="M715 197.6L725 207.5L716 226L709.5 227L709.5 210L700 199Z"/>
</g>
<g fill="none" stroke-linejoin="round" shape-rendering="crispEdges">
<path d="M472.0 205.8L551.5 205.8" stroke="#3f5eab" stroke-width="3.00"/>
<path d="M585.4 205.8L656.0 205.8" stroke="#3f5eab" stroke-width="3.00"/>
<path d="M727.0 205.8L802.0 205.8" stroke="#3f5eab" stroke-width="3.00"/>
<path d="M472.0 220.7L554.8 220.7" stroke="#a41a45" stroke-width="1.80"/>
<path d="M588.6 220.7L637.0 220.7" stroke="#a41a45" stroke-width="1.80"/>
<path d="M652.0 220.7L672.0 220.7" stroke="#a41a45" stroke-width="1.80"/>
<path d="M689.5 220.7L707.0 220.7" stroke="#a41a45" stroke-width="1.80"/>
<path d="M770.5 220.7L802.0 220.7" stroke="#a41a45" stroke-width="1.80"/>
<path d="M472.0 237.0L536.3 237.0" stroke="#3f5eab" stroke-width="2.80"/>
<path d="M554.8 237.0L572.0 237.0" stroke="#3f5eab" stroke-width="2.80"/>
<path d="M586.7 237.0L632.6 237.0" stroke="#3f5eab" stroke-width="2.80"/>
<path d="M637.0 237.0L660.0 237.0" stroke="#3f5eab" stroke-width="2.80"/>
<path d="M664.0 237.0L688.0 237.0" stroke="#3f5eab" stroke-width="2.80"/>
<path d="M691.0 237.0L703.0 237.0" stroke="#3f5eab" stroke-width="2.80"/>
<path d="M722.0 237.0L746.0 237.0" stroke="#3f5eab" stroke-width="2.80"/>
<path d="M751.0 237.0L776.0 237.0" stroke="#3f5eab" stroke-width="2.80"/>
<path d="M781.0 237.0L802.0 237.0" stroke="#3f5eab" stroke-width="2.80"/>
<path d="M472.0 239.2L536.3 239.2" stroke="#a41a45" stroke-width="1.80"/>
<path d="M556.0 239.2L572.0 239.2" stroke="#a41a45" stroke-width="1.80"/>
<path d="M588.0 239.2L632.6 239.2" stroke="#a41a45" stroke-width="1.80"/>
<path d="M637.0 239.2L660.0 239.2" stroke="#a41a45" stroke-width="1.80"/>
<path d="M664.0 239.2L688.0 239.2" stroke="#a41a45" stroke-width="1.80"/>
<path d="M722.0 239.2L746.0 239.2" stroke="#a41a45" stroke-width="1.80"/>
<path d="M751.0 239.2L776.0 239.2" stroke="#a41a45" stroke-width="1.80"/>
<path d="M781.0 239.2L802.0 239.2" stroke="#a41a45" stroke-width="1.80"/>
<path d="M472.0 256.8L527.0 256.8" stroke="#3f5eab" stroke-width="1.84"/>
<path d="M537.0 256.8L575.0 256.8" stroke="#3f5eab" stroke-width="1.84"/>
<path d="M592.0 256.8L640.0 256.8" stroke="#3f5eab" stroke-width="1.84"/>
<path d="M684.0 256.8L727.0 256.8" stroke="#3f5eab" stroke-width="1.84"/>
<path d="M732.0 256.8L760.0 256.8" stroke="#3f5eab" stroke-width="1.84"/>
<path d="M775.0 256.8L802.0 256.8" stroke="#3f5eab" stroke-width="1.84"/>
<path d="M472.0 258.4L527.0 258.4" stroke="#a41a45" stroke-width="1.80"/>
<path d="M537.0 258.4L575.0 258.4" stroke="#a41a45" stroke-width="1.80"/>
<path d="M592.0 258.4L640.0 258.4" stroke="#a41a45" stroke-width="1.80"/>
<path d="M684.0 258.4L727.0 258.4" stroke="#a41a45" stroke-width="1.80"/>
<path d="M775.0 258.4L802.0 258.4" stroke="#a41a45" stroke-width="1.80"/>
<path d="M472.0 297.5L802.0 297.5" stroke="#3f5eab" stroke-width="2.30"/>
<path d="M472.0 302.0L802.0 302.0" stroke="#a41a45" stroke-width="2.80"/>
<path d="M587.0 206.0L585.6 208.0L585.6 218.0L587.5 220.7" stroke="#3f5eab" stroke-width="1.80"/>
<path d="M472.0 265.1L481.0 259.0" stroke="#a41a45" stroke-width="1.80"/>
<path d="M472.0 276.6L502.0 260.2" stroke="#3f5eab" stroke-width="1.95"/>
<path d="M502.0 260.7L524.0 260.7" stroke="#3f5eab" stroke-width="1.80" stroke-dasharray="2 2"/>
<path d="M472.0 293.8L476.4 293.8L525.0 261.3" stroke="#a41a45" stroke-width="1.84"/>
<path d="M507.6 293.8L532.0 273.5" stroke="#3f5eab" stroke-width="2.07"/>
<path d="M537.5 268.0L546.5 260.7L568.2 260.7" stroke="#3f5eab" stroke-width="2.53"/>
<path d="M507.6 294.0L542.7 294.0L570.8 260.7" stroke="#a41a45" stroke-width="1.80"/>
<path d="M573.9 293.8L585.4 270.2" stroke="#3f5eab" stroke-width="2.07"/>
<path d="M590.0 260.7L615.4 260.7" stroke="#3f5eab" stroke-width="1.80"/>
<path d="M592.0 268.5L607.0 269.5" stroke="#3f5eab" stroke-width="1.80" stroke-dasharray="2 3"/>
<path d="M573.9 294.0L609.0 294.0L616.0 260.7" stroke="#a41a45" stroke-width="1.80"/>
<path d="M638.2 260.5L638.2 284.0L639.5 293.0" stroke="#3f5eab" stroke-width="1.80"/>
<path d="M638.2 260.8L651.0 260.8" stroke="#3f5eab" stroke-width="1.80"/>
<path d="M640.0 294.2L673.2 294.2" stroke="#a41a45" stroke-width="1.80"/>
<path d="M664.4 267.9L673.2 292.2" stroke="#a41a45" stroke-width="1.80" stroke-dasharray="2.5 2"/>
<path d="M704.3 294.2L739.4 294.2" stroke="#a41a45" stroke-width="1.80"/>
<path d="M770.4 294.2L802.0 294.2" stroke="#a41a45" stroke-width="1.80"/>
<path d="M761.7 287.5L767.7 292.9" stroke="#a41a45" stroke-width="1.80"/>
<path d="M759.6 265.2L798.8 289.5" stroke="#3f5eab" stroke-width="1.80" stroke-dasharray="1.5 3"/>
<path d="M775.8 261.2L801.5 276.0" stroke="#a41a45" stroke-width="1.80" stroke-dasharray="2 2.5"/>
<path d="M684.0 262.0L702.0 291.0" stroke="#3f5eab" stroke-width="1.80" stroke-dasharray="1.2 7"/>
<path d="M712.0 262.0L732.0 288.0" stroke="#3f5eab" stroke-width="1.80" stroke-dasharray="1.2 8"/>
<path d="M684.0 260.8L727.0 260.8" stroke="#3f5eab" stroke-width="1.80"/>
<path d="M775.0 260.8L802.0 260.8" stroke="#3f5eab" stroke-width="1.80"/>
<path d="M578.8 107.4L567.6 107.4L566.0 110.0L565.4 113.6L565.6 124.9L567.4 126.2L560.0 130.0L550.9 133.1L546.8 140.4L544.0 150.0L542.2 156.9L540.2 165.1L540.6 180.0L541.1 191.9L543.7 195.5" stroke="#3f5eab" stroke-width="1.95"/>
<path d="M578.8 108.5L581.9 110.5L583.5 116.0L585.0 121.8L582.0 126.0L579.8 130.0L571.5 128.3" stroke="#a41a45" stroke-width="1.95"/>
<path d="M543.7 195.5L548.0 197.5L553.0 198.1" stroke="#a41a45" stroke-width="1.84"/>
<path d="M587.0 137.3L587.6 146.5L586.0 153.0L584.4 158.9L584.0 175.0L584.4 187.8" stroke="#a41a45" stroke-width="1.84"/>
<path d="M558.1 150.7L554.0 156.0L550.9 161.0L550.4 172.3" stroke="#a41a45" stroke-width="1.80"/>
<path d="M554.2 162.0L553.0 170.3" stroke="#3f5eab" stroke-width="1.80"/>
<path d="M575.0 152.5L576.0 158.5" stroke="#a41a45" stroke-width="1.80"/>
<path d="M577.0 159.0L581.0 163.0L583.0 167.0" stroke="#3f5eab" stroke-width="1.80"/>
<path d="M576.5 166.0L578.5 172.0" stroke="#a41a45" stroke-width="1.80" stroke-dasharray="2 1.5"/>
<path d="M582.0 176.5L579.5 186.0" stroke="#3f5eab" stroke-width="1.80" stroke-dasharray="2 1.5"/>
<path d="M566.4 192.6L577.7 191.0L579.3 184.7" stroke="#a41a45" stroke-width="1.95"/>
<path d="M573.0 196.0L577.5 195.0L579.0 190.0" stroke="#3f5eab" stroke-width="1.80" stroke-dasharray="2 1.5"/>
<path d="M554.5 192.5L555.4 197.0L556.6 204.0" stroke="#3f5eab" stroke-width="1.84"/>
<path d="M553.0 191.5L554.0 197.0" stroke="#a41a45" stroke-width="1.80"/>
<path d="M566.4 194.0L565.6 204.0" stroke="#a41a45" stroke-width="1.84"/>
<path d="M557.5 205.0L558.0 214.0L554.5 220.0" stroke="#a41a45" stroke-width="1.80"/>
<path d="M561.0 207.0L561.5 217.0" stroke="#3f5eab" stroke-width="1.80" stroke-dasharray="3 2"/>
<path d="M565.5 205.0L565.0 212.0L566.5 218.0L569.0 219.5" stroke="#a41a45" stroke-width="1.80"/>
<path d="M551.5 222.5L546.0 229.0L539.0 239.0L532.0 248.0L529.5 251.0" stroke="#3f5eab" stroke-width="1.80"/>
<path d="M553.0 224.5L548.0 231.0L541.0 241.0L536.0 248.0" stroke="#a41a45" stroke-width="1.80" stroke-dasharray="3 2"/>
<path d="M552.0 232.0L557.0 231.5" stroke="#a41a45" stroke-width="1.80"/>
<path d="M554.0 226.5L562.0 225.5" stroke="#3f5eab" stroke-width="2.30"/>
<path d="M545.5 241.0L538.0 247.5L534.0 250.0" stroke="#a41a45" stroke-width="1.80" stroke-dasharray="4 2"/>
<path d="M529.5 245.0L529.5 252.0" stroke="#3f5eab" stroke-width="1.80" stroke-dasharray="2 1.5"/>
<path d="M572.5 207.0L575.0 209.5L575.2 215.0L573.0 219.0" stroke="#3f5eab" stroke-width="1.80"/>
<path d="M577.5 207.5L578.5 213.0L578.0 222.0" stroke="#a41a45" stroke-width="1.80"/>
<path d="M575.2 223.0L575.2 246.0" stroke="#3f5eab" stroke-width="1.80" stroke-dasharray="5 1.5"/>
<path d="M582.0 222.0L580.5 232.0L578.0 243.0L576.5 247.0" stroke="#a41a45" stroke-width="1.80" stroke-dasharray="4 1.5"/>
<path d="M579.0 226.0L581.5 223.0" stroke="#3f5eab" stroke-width="1.80" stroke-dasharray="2 1"/>
<path d="M530.0 253.0L527.0 256.0L526.5 262.0L529.0 266.0" stroke="#3f5eab" stroke-width="1.80"/>
<path d="M531.0 253.5L535.0 253.5L537.0 258.0L536.0 264.0L533.5 268.5L537.0 272.0" stroke="#a41a45" stroke-width="1.80"/>
<path d="M533.0 267.0L535.5 270.5L538.0 272.5" stroke="#3f5eab" stroke-width="1.80" stroke-dasharray="2 1.5"/>
<path d="M530.0 259.0L531.5 265.0" stroke="#a41a45" stroke-width="1.80" stroke-dasharray="2 1.5"/>
<path d="M580.0 251.0L586.0 259.0" stroke="#3f5eab" stroke-width="1.80" stroke-dasharray="1.5 1.5"/>
<path d="M577.0 265.0L583.0 264.0L592.0 264.5" stroke="#3f5eab" stroke-width="1.80"/>
<path d="M578.0 269.5L592.0 269.5" stroke="#a41a45" stroke-width="2.53"/>
<path d="M576.5 266.0L577.5 269.5" stroke="#3f5eab" stroke-width="1.80"/>
<path d="M708.7 120.3L703.5 121.2L701.3 122.3" stroke="#3f5eab" stroke-width="1.95"/>
<path d="M699.3 124.0L697.4 126.7L696.9 133.6L698.5 137.0L700.4 139.5" stroke="#3f5eab" stroke-width="1.80" stroke-dasharray="3 1.8"/>
<path d="M701.6 140.2L703.4 139.4" stroke="#a41a45" stroke-width="1.84"/>
<path d="M713.1 126.7L713.6 133.6" stroke="#a41a45" stroke-width="1.80"/>
<path d="M714.5 135.5L719.5 138.0" stroke="#3f5eab" stroke-width="1.80" stroke-dasharray="1.3 2.2"/>
<path d="M708.2 145.9L706.3 152.3L700.4 161.2L692.5 169.1L683.6 175.0L676.2 178.4" stroke="#3f5eab" stroke-width="2.30"/>
<path d="M676.2 178.4L679.0 181.0L683.6 184.3" stroke="#3f5eab" stroke-width="1.80"/>
<path d="M722.0 148.9L720.0 154.3L711.2 165.1L697.4 175.0L683.6 184.3" stroke="#a41a45" stroke-width="2.30"/>
<path d="M723.0 153.3L713.1 165.1" stroke="#3f5eab" stroke-width="1.84"/>
<path d="M726.9 144.0L732.8 153.3L738.7 167.1L742.5 178.0L743.7 183.5" stroke="#a41a45" stroke-width="1.80" stroke-dasharray="2.2 1.8"/>
<path d="M743.7 183.5L741.7 190.7L735.0 194.0L728.9 196.6L715.1 197.6" stroke="#a41a45" stroke-width="1.84"/>
<path d="M727.9 156.3L728.9 164.1" stroke="#a41a45" stroke-width="1.80" stroke-dasharray="2.5 1.5"/>
<path d="M730.5 157.0L731.5 165.0" stroke="#3f5eab" stroke-width="1.80" stroke-dasharray="1.5 2.5"/>
<path d="M721.0 180.9L718.1 184.8L709.2 188.7L702.3 193.7L699.9 198.6" stroke="#3f5eab" stroke-width="2.30"/>
<path d="M723.0 180.5L728.9 180.9" stroke="#3f5eab" stroke-width="1.80"/>
<path d="M713.1 168.1L724.0 175.0" stroke="#3f5eab" stroke-width="1.80" stroke-dasharray="1.5 2"/>
<path d="M718.0 174.0L725.5 178.5" stroke="#a41a45" stroke-width="1.80" stroke-dasharray="1.2 3"/>
<path d="M686.1 191.7L683.0 199.0L681.2 207.4" stroke="#a41a45" stroke-width="1.80" stroke-dasharray="2.5 2"/>
<path d="M683.5 193.0L681.5 201.0" stroke="#3f5eab" stroke-width="1.80" stroke-dasharray="2 2.5"/>
<path d="M715.1 197.6L725.0 207.4" stroke="#a41a45" stroke-width="1.80" stroke-dasharray="2 2"/>
<path d="M681.2 207.0L700.0 208.2L711.2 208.4" stroke="#3f5eab" stroke-width="1.80" stroke-dasharray="6 1.5"/>
<path d="M704.0 207.5L709.0 209.0" stroke="#a41a45" stroke-width="1.84"/>
<path d="M731.9 199.1L737.8 200.6" stroke="#a41a45" stroke-width="1.80"/>
<path d="M731.0 197.5L737.0 199.0" stroke="#3f5eab" stroke-width="1.80"/>
<path d="M674.0 203.0L680.0 212.0L688.0 226.0" stroke="#3f5eab" stroke-width="1.80" stroke-dasharray="2 2"/>
<path d="M672.0 206.0L678.0 213.0L684.0 222.0" stroke="#a41a45" stroke-width="1.80" stroke-dasharray="2 2.5"/>
<path d="M670.5 205.0L676.5 211.5" stroke="#3f5eab" stroke-width="1.80" stroke-dasharray="1.5 1.5"/>
<path d="M657.7 220.0L657.7 211.2L671.9 211.2L671.9 219.0" stroke="#a41a45" stroke-width="1.84"/>
<path d="M667.0 215.5L673.5 215.5" stroke="#3f5eab" stroke-width="2.30"/>
<path d="M668.0 209.0L675.0 214.5" stroke="#3f5eab" stroke-width="1.80" stroke-dasharray="2 1"/>
<path d="M638.7 251.5L637.6 249.5L636.8 247.5L636.1 245.4L635.6 243.2L635.2 241.0L635.1 238.8L635.2 236.6L635.4 234.3L635.8 232.2L636.4 230.0L637.2 227.9L638.1 225.9L639.2 224.0L640.5 222.2L641.9 220.4L643.4 218.9L645.1 217.4L646.9 216.1L648.8 214.9L650.8 213.9L652.9 213.1L655.0 212.5L657.2 212.0L659.4 211.7" stroke="#3f5eab" stroke-width="1.80" stroke-dasharray="2.5 2.5"/>
<path d="M637.2 231.6L637.5 230.4L637.9 229.3L638.4 228.1L638.9 227.0L639.5 225.9L640.1 224.8L640.8 223.8L641.5 222.8L642.3 221.8L643.1 220.9L644.0 220.0L644.9 219.2L645.8 218.4L646.8 217.6L647.8 216.9L648.9 216.3L650.0 215.7L651.1 215.1L652.2 214.6L653.4 214.2L654.5 213.8L655.7 213.5L656.9 213.2L658.2 213.0" stroke="#a41a45" stroke-width="1.80" stroke-dasharray="2 3"/>
<path d="M659.4 264.1L658.4 264.0L657.4 263.8L656.3 263.6L655.3 263.4L654.3 263.1L653.3 262.8L652.4 262.5L651.4 262.1L650.5 261.6L649.5 261.2L648.6 260.7L647.7 260.1L646.9 259.6L646.0 258.9L645.2 258.3L644.4 257.6L643.7 256.9L642.9 256.2L642.2 255.4L641.5 254.6L640.9 253.8L640.3 253.0L639.7 252.1L639.2 251.2" stroke="#3f5eab" stroke-width="1.80" stroke-dasharray="2 3"/>
<path d="M686.9 237.3L686.9 239.2L686.7 241.1L686.5 242.9L686.0 244.7L685.5 246.5L684.8 248.2L684.0 249.9L683.1 251.6L682.0 253.1L680.9 254.6L679.6 255.9L678.2 257.2L676.8 258.4L675.2 259.5L673.6 260.4L671.9 261.2L670.2 261.9L668.4 262.5L666.6 262.9L664.8 263.2L662.9 263.4L661.0 263.4L659.2 263.3L657.3 263.0" stroke="#3f5eab" stroke-width="1.95"/>
<path d="M689.4 239.7L689.2 241.8L688.9 243.8L688.5 245.8L687.8 247.8L687.1 249.7L686.2 251.6L685.1 253.4L683.9 255.1L682.6 256.6L681.2 258.1L679.6 259.5L678.0 260.8L676.2 261.9L674.4 262.9L672.5 263.7L670.6 264.4L668.6 264.9L666.6 265.3L664.5 265.5L662.4 265.6L660.4 265.5L658.3 265.3L656.3 264.9L654.3 264.3" stroke="#a41a45" stroke-width="2.07"/>
<path d="M664.0 211.8L665.1 211.9L666.1 212.1L667.2 212.3L668.2 212.5L669.2 212.8L670.2 213.1L671.2 213.5L672.2 213.9L673.2 214.3L674.1 214.8L675.0 215.3L675.9 215.9L676.8 216.4L677.7 217.1L678.5 217.7L679.3 218.4L680.1 219.1L680.8 219.9L681.6 220.7L682.2 221.5L682.9 222.3L683.5 223.2L684.1 224.0L684.6 224.9" stroke="#a41a45" stroke-width="1.80" stroke-dasharray="2 3"/>
<path d="M777.1 235.2L777.4 237.4L777.4 239.7L777.2 241.9L776.9 244.1L776.4 246.3L775.7 248.4L774.9 250.5L773.8 252.5L772.6 254.4L771.3 256.1L769.8 257.8L768.2 259.4L766.5 260.8L764.6 262.0L762.7 263.2L760.7 264.1L758.6 264.9L756.4 265.5L754.2 265.9L752.0 266.1L749.8 266.2L747.6 266.1L745.3 265.8L743.2 265.3" stroke="#3f5eab" stroke-width="1.95"/>
<path d="M779.8 238.1L779.8 240.2L779.7 242.4L779.4 244.5L778.9 246.6L778.3 248.7L777.6 250.7L776.7 252.6L775.6 254.5L774.4 256.3L773.1 258.0L771.7 259.5L770.2 261.0L768.5 262.4L766.7 263.6L764.9 264.7L763.0 265.7L761.0 266.5L759.0 267.1L756.9 267.6L754.8 268.0L752.6 268.2L750.5 268.2L748.4 268.1L746.2 267.8" stroke="#a41a45" stroke-width="2.07"/>
<path d="M760.1 212.7L761.2 213.1L762.3 213.6L763.4 214.2L764.5 214.8L765.5 215.4L766.6 216.1L767.5 216.8L768.5 217.6L769.4 218.4L770.3 219.2L771.1 220.1L771.9 221.0L772.7 222.0L773.4 222.9L774.1 224.0L774.7 225.0L775.3 226.1L775.9 227.2L776.4 228.3L776.8 229.4L777.2 230.6L777.5 231.8L777.8 232.9L778.1 234.1" stroke="#3f5eab" stroke-width="1.80" stroke-dasharray="1.5 4"/>
<path d="M740.9 265.3L739.7 264.8L738.5 264.3L737.3 263.7L736.1 263.0L735.0 262.3L733.9 261.6L732.9 260.8L731.9 259.9L730.9 259.0L730.0 258.1L729.1 257.1L728.3 256.0L727.5 255.0L726.8 253.9L726.1 252.7L725.5 251.6L724.9 250.4L724.4 249.1L724.0 247.9L723.6 246.6L723.2 245.4L723.0 244.1L722.8 242.8L722.6 241.4" stroke="#a41a45" stroke-width="1.80" stroke-dasharray="2 4"/>
<path d="M723.0 239.0L723.0 237.6L723.1 236.2L723.3 234.8L723.6 233.4L723.9 232.1L724.3 230.7L724.7 229.4L725.2 228.1L725.8 226.8L726.5 225.6L727.2 224.4L728.0 223.2L728.8 222.1L729.7 221.0L730.6 220.0L731.6 219.0L732.7 218.1L733.8 217.2L734.9 216.4L736.1 215.6L737.3 214.9L738.5 214.2L739.8 213.7L741.1 213.2" stroke="#3f5eab" stroke-width="1.80" stroke-dasharray="1.5 5"/>
<path d="M740.0 211.5L752.0 210.0L764.0 211.0L772.0 214.5" stroke="#a41a45" stroke-width="2.07"/>
<path d="M741.0 214.0L754.0 212.5L768.0 214.0" stroke="#3f5eab" stroke-width="1.80" stroke-dasharray="5 2"/>
<path d="M745.0 216.5L760.0 216.5" stroke="#a41a45" stroke-width="1.80" stroke-dasharray="3 2"/>
<path d="M741.0 212.0L728.0 221.0L716.0 226.0" stroke="#a41a45" stroke-width="2.30"/>
<path d="M739.0 228.0L722.0 236.0L704.0 247.0L699.0 253.0" stroke="#a41a45" stroke-width="1.84"/>
<path d="M726.0 224.0L716.0 232.0L708.0 238.0" stroke="#3f5eab" stroke-width="1.84" stroke-dasharray="4 1.5"/>
<path d="M709.5 227.0L709.5 240.0L703.0 249.0L697.5 254.0" stroke="#3f5eab" stroke-width="1.84"/>
<path d="M716.0 240.0L712.0 247.0L704.0 253.0L700.0 256.0" stroke="#a41a45" stroke-width="1.84"/>
<path d="M715.0 245.0L738.0 245.0" stroke="#3f5eab" stroke-width="1.80" stroke-dasharray="6 2"/>
<path d="M721.0 249.5L739.0 249.5" stroke="#a41a45" stroke-width="1.80" stroke-dasharray="5 2"/>
<path d="M719.0 236.0L716.5 247.0" stroke="#3f5eab" stroke-width="1.80" stroke-dasharray="2 1.5"/>
<path d="M712.5 236.0L710.5 248.0" stroke="#a41a45" stroke-width="1.80" stroke-dasharray="2 2"/>
<path d="M750.0 236.0L752.5 242.0L754.0 245.0" stroke="#3f5eab" stroke-width="1.80" stroke-dasharray="2 1.5"/>
<path d="M716.0 222.0L722.0 218.0L730.0 213.0" stroke="#a41a45" stroke-width="1.80" stroke-dasharray="2 2"/>
</g></g>
<rect x="1274" y="6.7" width="19.2" height="297.3" fill="url(#cbar)"/>
<text class="pl" x="944" y="33">c</text>
<g font-size="19.5px"><text x="1295" y="15">+1</text><text x="1296.5" y="303">-1</text>
<text transform="translate(1315.9 162) rotate(90)" text-anchor="middle"><tspan class="it">I</tspan><tspan font-size="10px" dy="0.8" dx="0.3" letter-spacing="-0.6">pc</tspan><tspan dy="-0.8"> (a.u.)</tspan></text></g>
</g>
<!-- panel d -->
<g id="panel-d">
<path d="M196.0 409.7V652.3M74.7 531.0H317.3" stroke="#8c8c8c" stroke-width="0.8" fill="none"/>
<circle cx="196.0" cy="531.0" r="55.6" fill="none" stroke="#3a3a3a" stroke-width="1"/>
<circle cx="196.0" cy="531.0" r="121.3" fill="none" stroke="#3a3a3a" stroke-width="1"/>
<path d="M281.8 445.2L279.3 447.7M110.2 445.2L112.7 447.7M110.2 616.8L112.7 614.3M281.8 616.8L279.3 614.3" stroke="#3a3a3a" stroke-width="1" fill="none"/>
<path d="M308.0 531.0L307.6 525.2L306.5 519.4L304.6 513.8L302.0 508.5L298.8 503.5L294.9 498.9L290.4 494.8L285.5 491.2L280.1 488.1L274.4 485.7L268.5 483.9L262.3 482.8L256.1 482.3L249.9 482.5L243.7 483.3L237.8 484.6L232.0 486.5L226.6 488.9L221.5 491.7L216.9 494.8L212.7 498.2L209.0 501.8L205.8 505.5L203.1 509.1L200.9 512.7L199.2 516.0L197.9 519.0L197.0 521.6L196.4 523.5L196.0 524.5L195.6 524.1L195.2 522.9L194.5 521.3L193.5 519.2L192.2 516.7L190.4 513.9L188.3 510.9L185.6 507.7L182.5 504.6L178.9 501.5L174.9 498.5L170.4 495.8L165.5 493.3L160.2 491.3L154.7 489.7L149.0 488.6L143.1 488.1L137.1 488.2L131.2 488.9L125.4 490.2L119.8 492.2L114.5 494.7L109.6 497.8L105.2 501.5L101.3 505.6L98.0 510.2L95.4 515.1L93.5 520.2L92.4 525.6L92.0 531.0L92.3 536.4L93.4 541.8L95.1 547.0L97.4 552.0L100.3 556.6L103.8 561.0L107.8 564.8L112.3 568.3L117.1 571.2L122.3 573.5L127.7 575.3L133.3 576.5L139.0 577.1L144.8 577.1L150.4 576.6L155.9 575.5L161.3 573.9L166.4 571.8L171.1 569.3L175.5 566.5L179.5 563.4L183.1 560.0L186.2 556.6L188.8 553.1L191.0 549.7L192.7 546.4L194.0 543.4L195.0 540.7L195.6 538.7L196.0 537.5L196.4 538.5L197.0 540.4L197.9 543.0L199.2 546.0L200.9 549.3L203.1 552.9L205.8 556.5L209.0 560.2L212.7 563.8L216.9 567.2L221.5 570.3L226.6 573.1L232.0 575.5L237.8 577.4L243.7 578.7L249.9 579.5L256.1 579.7L262.3 579.2L268.5 578.1L274.4 576.3L280.1 573.9L285.5 570.8L290.4 567.2L294.9 563.1L298.8 558.5L302.0 553.5L304.6 548.2L306.5 542.6L307.6 536.8L308.0 531.0Z" fill="none" stroke="#7b4a22" stroke-width="1.15" stroke-linejoin="round"/>
<circle cx="303.8" cy="512.0" r="2.3" fill="#7b4a22"/><circle cx="274.4" cy="485.7" r="2.3" fill="#7b4a22"/><circle cx="233.9" cy="485.8" r="2.3" fill="#7b4a22"/><circle cx="204.8" cy="506.7" r="2.3" fill="#7b4a22"/><circle cx="196.0" cy="524.5" r="2.3" fill="#7b4a22"/><circle cx="189.0" cy="511.9" r="2.3" fill="#7b4a22"/><circle cx="163.8" cy="492.6" r="2.3" fill="#7b4a22"/><circle cx="125.4" cy="490.2" r="2.3" fill="#7b4a22"/><circle cx="96.2" cy="513.4" r="2.3" fill="#7b4a22"/><circle cx="95.8" cy="548.7" r="2.3" fill="#7b4a22"/><circle cx="122.3" cy="573.5" r="2.3" fill="#7b4a22"/><circle cx="159.5" cy="574.5" r="2.3" fill="#7b4a22"/><circle cx="187.1" cy="555.4" r="2.3" fill="#7b4a22"/><circle cx="196.0" cy="537.5" r="2.3" fill="#7b4a22"/><circle cx="204.8" cy="555.3" r="2.3" fill="#7b4a22"/><circle cx="233.9" cy="576.2" r="2.3" fill="#7b4a22"/><circle cx="274.4" cy="576.3" r="2.3" fill="#7b4a22"/><circle cx="303.8" cy="550.0" r="2.3" fill="#7b4a22"/>
<path d="M307.0 531.0L306.6 525.2L305.5 519.5L303.6 514.0L301.1 508.7L297.9 503.7L294.0 499.1L289.6 495.1L284.8 491.5L279.5 488.5L273.8 486.1L267.9 484.3L261.9 483.2L255.7 482.7L249.6 482.8L243.5 483.5L237.6 484.8L231.9 486.7L226.5 489.0L221.5 491.7L216.9 494.8L212.7 498.2L209.1 501.7L205.9 505.3L203.2 508.9L201.0 512.4L199.3 515.6L198.0 518.6L197.0 521.1L196.4 523.0L196.0 524.0L195.6 523.5L195.1 522.4L194.4 520.7L193.4 518.6L192.0 516.1L190.3 513.3L188.1 510.3L185.4 507.2L182.3 504.1L178.7 501.1L174.7 498.2L170.2 495.5L165.3 493.1L160.1 491.2L154.7 489.7L149.0 488.7L143.2 488.2L137.3 488.4L131.5 489.1L125.8 490.4L120.3 492.4L115.1 495.0L110.3 498.1L105.9 501.7L102.1 505.8L98.9 510.4L96.4 515.2L94.5 520.3L93.4 525.6L93.0 531.0L93.3 536.4L94.3 541.7L96.0 546.8L98.3 551.8L101.2 556.4L104.7 560.7L108.6 564.5L113.0 567.9L117.8 570.8L122.9 573.2L128.3 575.0L133.8 576.2L139.4 576.8L145.1 576.8L150.7 576.3L156.2 575.3L161.4 573.7L166.5 571.7L171.2 569.2L175.5 566.5L179.5 563.4L183.0 560.1L186.1 556.8L188.7 553.3L190.9 550.0L192.7 546.7L194.0 543.8L194.9 541.2L195.6 539.1L196.0 538.0L196.4 539.0L197.0 540.9L198.0 543.4L199.3 546.4L201.0 549.6L203.2 553.1L205.9 556.7L209.1 560.3L212.7 563.8L216.9 567.2L221.5 570.3L226.5 573.0L231.9 575.3L237.6 577.2L243.5 578.5L249.6 579.2L255.7 579.3L261.9 578.8L267.9 577.7L273.8 575.9L279.5 573.5L284.8 570.5L289.6 566.9L294.0 562.9L297.9 558.3L301.1 553.3L303.6 548.0L305.5 542.5L306.6 536.8L307.0 531.0Z" fill="none" stroke="#b4622a" stroke-width="1.15" stroke-linejoin="round"/>
<circle cx="302.9" cy="512.2" r="2.3" fill="#b4622a"/><circle cx="273.8" cy="486.1" r="2.3" fill="#b4622a"/><circle cx="233.8" cy="486.0" r="2.3" fill="#b4622a"/><circle cx="204.9" cy="506.5" r="2.3" fill="#b4622a"/><circle cx="196.0" cy="524.0" r="2.3" fill="#b4622a"/><circle cx="188.8" cy="511.3" r="2.3" fill="#b4622a"/><circle cx="163.6" cy="492.4" r="2.3" fill="#b4622a"/><circle cx="125.8" cy="490.4" r="2.3" fill="#b4622a"/><circle cx="97.1" cy="513.6" r="2.3" fill="#b4622a"/><circle cx="96.7" cy="548.5" r="2.3" fill="#b4622a"/><circle cx="122.9" cy="573.2" r="2.3" fill="#b4622a"/><circle cx="159.7" cy="574.3" r="2.3" fill="#b4622a"/><circle cx="187.0" cy="555.6" r="2.3" fill="#b4622a"/><circle cx="196.0" cy="538.0" r="2.3" fill="#b4622a"/><circle cx="204.9" cy="555.5" r="2.3" fill="#b4622a"/><circle cx="233.8" cy="576.0" r="2.3" fill="#b4622a"/><circle cx="273.8" cy="575.9" r="2.3" fill="#b4622a"/><circle cx="302.9" cy="549.8" r="2.3" fill="#b4622a"/>
<path d="M306.5 531.0L306.1 525.2L305.0 519.5L303.2 514.0L300.6 508.8L297.4 503.8L293.6 499.3L289.3 495.2L284.4 491.6L279.2 488.6L273.6 486.2L267.7 484.4L261.7 483.3L255.6 482.8L249.5 482.9L243.4 483.6L237.5 484.9L231.9 486.7L226.6 488.9L221.6 491.6L217.0 494.7L212.8 498.0L209.2 501.4L206.0 505.0L203.3 508.5L201.1 512.0L199.3 515.2L198.0 518.2L197.1 520.7L196.4 522.5L196.0 523.5L195.6 523.0L195.0 521.9L194.3 520.2L193.2 518.0L191.9 515.6L190.1 512.8L187.9 509.9L185.2 506.8L182.1 503.8L178.6 500.8L174.6 498.0L170.1 495.4L165.3 493.1L160.2 491.3L154.8 489.8L149.2 488.9L143.5 488.5L137.8 488.7L132.1 489.5L126.5 490.9L121.1 492.8L116.0 495.4L111.3 498.5L107.1 502.1L103.4 506.2L100.3 510.7L97.8 515.4L96.0 520.5L94.9 525.7L94.5 531.0L94.8 536.3L95.8 541.5L97.5 546.6L99.7 551.5L102.6 556.0L106.0 560.3L109.8 564.1L114.2 567.4L118.9 570.3L123.9 572.6L129.2 574.4L134.6 575.6L140.1 576.2L145.7 576.3L151.2 575.8L156.6 574.8L161.7 573.3L166.7 571.3L171.3 569.0L175.6 566.3L179.5 563.3L183.0 560.1L186.1 556.8L188.7 553.5L190.9 550.2L192.6 547.1L193.9 544.2L194.9 541.6L195.5 539.6L196.0 538.5L196.4 539.5L197.1 541.3L198.0 543.8L199.3 546.8L201.1 550.0L203.3 553.5L206.0 557.0L209.2 560.6L212.8 564.0L217.0 567.3L221.6 570.4L226.6 573.1L231.9 575.3L237.5 577.1L243.4 578.4L249.5 579.1L255.6 579.2L261.7 578.7L267.7 577.6L273.6 575.8L279.2 573.4L284.4 570.4L289.3 566.8L293.6 562.7L297.4 558.2L300.6 553.2L303.2 548.0L305.0 542.5L306.1 536.8L306.5 531.0Z" fill="none" stroke="#f0932f" stroke-width="1.15" stroke-linejoin="round"/>
<circle cx="302.4" cy="512.2" r="2.3" fill="#f0932f"/><circle cx="273.6" cy="486.2" r="2.3" fill="#f0932f"/><circle cx="233.8" cy="486.0" r="2.3" fill="#f0932f"/><circle cx="205.0" cy="506.2" r="2.3" fill="#f0932f"/><circle cx="196.0" cy="523.5" r="2.3" fill="#f0932f"/><circle cx="188.7" cy="510.9" r="2.3" fill="#f0932f"/><circle cx="163.7" cy="492.5" r="2.3" fill="#f0932f"/><circle cx="126.5" cy="490.9" r="2.3" fill="#f0932f"/><circle cx="98.5" cy="513.8" r="2.3" fill="#f0932f"/><circle cx="98.1" cy="548.3" r="2.3" fill="#f0932f"/><circle cx="123.9" cy="572.6" r="2.3" fill="#f0932f"/><circle cx="160.0" cy="573.9" r="2.3" fill="#f0932f"/><circle cx="187.0" cy="555.7" r="2.3" fill="#f0932f"/><circle cx="196.0" cy="538.5" r="2.3" fill="#f0932f"/><circle cx="205.0" cy="555.8" r="2.3" fill="#f0932f"/><circle cx="233.8" cy="576.0" r="2.3" fill="#f0932f"/><circle cx="273.6" cy="575.8" r="2.3" fill="#f0932f"/><circle cx="302.4" cy="549.8" r="2.3" fill="#f0932f"/>
<path d="M305.5 531.0L305.1 525.3L304.0 519.6L302.2 514.2L299.7 509.0L296.6 504.1L292.8 499.5L288.5 495.5L283.7 491.9L278.6 488.9L273.0 486.5L267.3 484.7L261.3 483.5L255.3 483.0L249.3 483.0L243.3 483.7L237.5 484.9L231.9 486.6L226.6 488.8L221.7 491.4L217.1 494.4L213.0 497.6L209.4 501.0L206.2 504.4L203.5 507.9L201.3 511.3L199.5 514.4L198.2 517.3L197.2 519.7L196.5 521.6L196.0 522.5L195.5 521.3L194.8 519.2L193.7 516.5L192.3 513.5L190.4 510.1L188.1 506.7L185.3 503.1L182.0 499.7L178.3 496.3L174.2 493.2L169.6 490.3L164.6 487.8L159.4 485.8L153.9 484.2L148.2 483.2L142.3 482.7L136.4 482.8L130.5 483.4L124.8 484.7L119.2 486.7L113.9 489.1L108.9 492.2L104.3 495.8L100.1 499.9L96.6 504.4L93.5 509.2L91.1 514.4L89.4 519.8L88.4 525.4L88.0 531.0L88.4 536.6L89.4 542.2L91.1 547.6L93.5 552.8L96.6 557.6L100.1 562.1L104.3 566.2L108.9 569.8L113.9 572.9L119.2 575.3L124.8 577.3L130.5 578.6L136.4 579.2L142.3 579.3L148.2 578.8L153.9 577.8L159.4 576.2L164.6 574.2L169.6 571.7L174.2 568.8L178.3 565.7L182.0 562.3L185.3 558.9L188.1 555.3L190.4 551.9L192.3 548.5L193.7 545.5L194.8 542.8L195.5 540.7L196.0 539.5L196.5 540.4L197.2 542.3L198.2 544.7L199.5 547.6L201.3 550.7L203.5 554.1L206.2 557.6L209.4 561.0L213.0 564.4L217.1 567.6L221.7 570.6L226.6 573.2L231.9 575.4L237.5 577.1L243.3 578.3L249.3 579.0L255.3 579.0L261.3 578.5L267.3 577.3L273.0 575.5L278.6 573.1L283.7 570.1L288.5 566.5L292.8 562.5L296.6 557.9L299.7 553.0L302.2 547.8L304.0 542.4L305.1 536.7L305.5 531.0Z" fill="none" stroke="#f7d862" stroke-width="1.15" stroke-linejoin="round"/>
<rect x="299.5" y="510.4" width="4" height="4" fill="#f7d862"/><rect x="271.0" y="484.5" width="4" height="4" fill="#f7d862"/><rect x="231.8" y="484.0" width="4" height="4" fill="#f7d862"/><rect x="203.2" y="503.6" width="4" height="4" fill="#f7d862"/><rect x="194.0" y="520.5" width="4" height="4" fill="#f7d862"/><rect x="184.3" y="502.3" width="4" height="4" fill="#f7d862"/><rect x="155.6" y="483.2" width="4" height="4" fill="#f7d862"/><rect x="117.2" y="484.7" width="4" height="4" fill="#f7d862"/><rect x="89.9" y="510.6" width="4" height="4" fill="#f7d862"/><rect x="89.9" y="547.4" width="4" height="4" fill="#f7d862"/><rect x="117.2" y="573.3" width="4" height="4" fill="#f7d862"/><rect x="155.6" y="574.8" width="4" height="4" fill="#f7d862"/><rect x="184.3" y="555.7" width="4" height="4" fill="#f7d862"/><rect x="194.0" y="537.5" width="4" height="4" fill="#f7d862"/><rect x="203.2" y="554.4" width="4" height="4" fill="#f7d862"/><rect x="231.8" y="574.0" width="4" height="4" fill="#f7d862"/><rect x="271.0" y="573.5" width="4" height="4" fill="#f7d862"/><rect x="299.5" y="547.6" width="4" height="4" fill="#f7d862"/>
<path d="M304.5 531.0L304.1 525.3L303.1 519.7L301.3 514.3L298.8 509.1L295.8 504.3L292.1 499.8L287.9 495.7L283.2 492.2L278.1 489.2L272.7 486.7L267.0 484.9L261.2 483.6L255.3 483.0L249.4 483.0L243.5 483.5L237.8 484.6L232.3 486.2L227.0 488.3L222.2 490.7L217.6 493.5L213.5 496.6L209.9 499.8L206.7 503.1L204.0 506.4L201.7 509.7L199.9 512.7L198.5 515.5L197.4 517.8L196.6 519.6L196.0 520.5L195.4 519.0L194.5 516.6L193.2 513.6L191.6 510.3L189.5 506.8L187.0 503.2L183.9 499.6L180.4 496.1L176.5 492.8L172.2 489.7L167.4 487.0L162.3 484.7L157.0 482.8L151.3 481.4L145.6 480.6L139.7 480.3L133.8 480.6L127.9 481.5L122.2 483.1L116.7 485.2L111.4 487.9L106.5 491.1L101.9 494.9L97.9 499.1L94.4 503.8L91.4 508.8L89.1 514.1L87.4 519.6L86.3 525.3L86.0 531.0L86.3 536.7L87.4 542.4L89.1 547.9L91.4 553.2L94.4 558.2L97.9 562.9L101.9 567.1L106.5 570.9L111.4 574.1L116.7 576.8L122.2 578.9L127.9 580.5L133.8 581.4L139.7 581.7L145.6 581.4L151.3 580.6L157.0 579.2L162.3 577.3L167.4 575.0L172.2 572.3L176.5 569.2L180.4 565.9L183.9 562.4L187.0 558.8L189.5 555.2L191.6 551.7L193.2 548.4L194.5 545.4L195.4 543.0L196.0 541.5L196.6 542.4L197.4 544.2L198.5 546.5L199.9 549.3L201.7 552.3L204.0 555.6L206.7 558.9L209.9 562.2L213.5 565.4L217.6 568.5L222.2 571.3L227.0 573.7L232.3 575.8L237.8 577.4L243.5 578.5L249.4 579.0L255.3 579.0L261.2 578.4L267.0 577.1L272.7 575.3L278.1 572.8L283.2 569.8L287.9 566.3L292.1 562.2L295.8 557.7L298.8 552.9L301.3 547.7L303.1 542.3L304.1 536.7L304.5 531.0Z" fill="none" stroke="#d3e35c" stroke-width="1.15" stroke-linejoin="round"/>
<path d="M300.5 509.6L303.1 512.6L300.5 515.6L297.9 512.6Z" fill="#d3e35c"/><path d="M272.7 483.7L275.3 486.7L272.7 489.7L270.1 486.7Z" fill="#d3e35c"/><path d="M234.1 482.6L236.7 485.6L234.1 488.6L231.5 485.6Z" fill="#d3e35c"/><path d="M205.7 501.2L208.3 504.2L205.7 507.2L203.1 504.2Z" fill="#d3e35c"/><path d="M196.0 517.5L198.6 520.5L196.0 523.5L193.4 520.5Z" fill="#d3e35c"/><path d="M185.0 497.8L187.6 500.8L185.0 503.8L182.4 500.8Z" fill="#d3e35c"/><path d="M155.1 479.3L157.7 482.3L155.1 485.3L152.5 482.3Z" fill="#d3e35c"/><path d="M116.7 482.2L119.3 485.2L116.7 488.2L114.1 485.2Z" fill="#d3e35c"/><path d="M89.8 509.3L92.4 512.3L89.8 515.3L87.2 512.3Z" fill="#d3e35c"/><path d="M89.8 546.7L92.4 549.7L89.8 552.7L87.2 549.7Z" fill="#d3e35c"/><path d="M116.7 573.8L119.3 576.8L116.7 579.8L114.1 576.8Z" fill="#d3e35c"/><path d="M155.1 576.7L157.7 579.7L155.1 582.7L152.5 579.7Z" fill="#d3e35c"/><path d="M185.0 558.2L187.6 561.2L185.0 564.2L182.4 561.2Z" fill="#d3e35c"/><path d="M196.0 538.5L198.6 541.5L196.0 544.5L193.4 541.5Z" fill="#d3e35c"/><path d="M205.7 554.8L208.3 557.8L205.7 560.8L203.1 557.8Z" fill="#d3e35c"/><path d="M234.1 573.4L236.7 576.4L234.1 579.4L231.5 576.4Z" fill="#d3e35c"/><path d="M272.7 572.3L275.3 575.3L272.7 578.3L270.1 575.3Z" fill="#d3e35c"/><path d="M300.5 546.4L303.1 549.4L300.5 552.4L297.9 549.4Z" fill="#d3e35c"/>
<path d="M303.5 531.0L303.1 525.4L302.1 519.8L300.3 514.5L297.9 509.3L294.9 504.5L291.3 500.0L287.2 496.0L282.6 492.4L277.6 489.4L272.3 487.0L266.7 485.1L261.0 483.8L255.2 483.1L249.3 483.0L243.5 483.5L237.9 484.5L232.5 486.0L227.3 487.9L222.4 490.3L218.0 492.9L213.9 495.9L210.3 499.0L207.1 502.2L204.3 505.4L202.0 508.5L200.2 511.5L198.7 514.1L197.5 516.4L196.7 518.1L196.0 519.0L195.3 517.3L194.3 514.7L192.9 511.6L191.1 508.1L188.9 504.5L186.2 500.9L183.0 497.3L179.4 493.8L175.4 490.5L170.9 487.5L166.0 484.9L160.9 482.6L155.4 480.9L149.7 479.6L143.9 478.9L138.0 478.8L132.1 479.2L126.2 480.3L120.5 482.0L115.0 484.2L109.7 487.0L104.8 490.4L100.3 494.3L96.3 498.6L92.8 503.3L89.9 508.4L87.5 513.8L85.9 519.4L84.8 525.2L84.5 531.0L84.8 536.8L85.9 542.6L87.5 548.2L89.9 553.6L92.8 558.7L96.3 563.4L100.3 567.7L104.8 571.6L109.7 575.0L115.0 577.8L120.5 580.0L126.2 581.7L132.1 582.8L138.0 583.2L143.9 583.1L149.7 582.4L155.4 581.1L160.9 579.4L166.0 577.1L170.9 574.5L175.4 571.5L179.4 568.2L183.0 564.7L186.2 561.1L188.9 557.5L191.1 553.9L192.9 550.4L194.3 547.3L195.3 544.7L196.0 543.0L196.7 543.9L197.5 545.6L198.7 547.9L200.2 550.5L202.0 553.5L204.3 556.6L207.1 559.8L210.3 563.0L213.9 566.1L218.0 569.1L222.4 571.7L227.3 574.1L232.5 576.0L237.9 577.5L243.5 578.5L249.3 579.0L255.2 578.9L261.0 578.2L266.7 576.9L272.3 575.0L277.6 572.6L282.6 569.6L287.2 566.0L291.3 562.0L294.9 557.5L297.9 552.7L300.3 547.5L302.1 542.2L303.1 536.6L303.5 531.0Z" fill="none" stroke="#8cc24a" stroke-width="1.15" stroke-linejoin="round"/>
<path d="M299.6 509.7L302.2 512.7L299.6 515.7L297.0 512.7Z" fill="#8cc24a"/><path d="M272.3 484.0L274.9 487.0L272.3 490.0L269.7 487.0Z" fill="#8cc24a"/><path d="M234.2 482.4L236.8 485.4L234.2 488.4L231.6 485.4Z" fill="#8cc24a"/><path d="M206.1 500.3L208.7 503.3L206.1 506.3L203.5 503.3Z" fill="#8cc24a"/><path d="M196.0 516.0L198.6 519.0L196.0 522.0L193.4 519.0Z" fill="#8cc24a"/><path d="M184.2 495.5L186.8 498.5L184.2 501.5L181.6 498.5Z" fill="#8cc24a"/><path d="M153.5 477.4L156.1 480.4L153.5 483.4L150.9 480.4Z" fill="#8cc24a"/><path d="M115.0 481.2L117.6 484.2L115.0 487.2L112.4 484.2Z" fill="#8cc24a"/><path d="M88.2 509.0L90.8 512.0L88.2 515.0L85.6 512.0Z" fill="#8cc24a"/><path d="M88.2 547.0L90.8 550.0L88.2 553.0L85.6 550.0Z" fill="#8cc24a"/><path d="M115.0 574.8L117.6 577.8L115.0 580.8L112.4 577.8Z" fill="#8cc24a"/><path d="M153.5 578.6L156.1 581.6L153.5 584.6L150.9 581.6Z" fill="#8cc24a"/><path d="M184.2 560.5L186.8 563.5L184.2 566.5L181.6 563.5Z" fill="#8cc24a"/><path d="M196.0 540.0L198.6 543.0L196.0 546.0L193.4 543.0Z" fill="#8cc24a"/><path d="M206.1 555.7L208.7 558.7L206.1 561.7L203.5 558.7Z" fill="#8cc24a"/><path d="M234.2 573.6L236.8 576.6L234.2 579.6L231.6 576.6Z" fill="#8cc24a"/><path d="M272.3 572.0L274.9 575.0L272.3 578.0L269.7 575.0Z" fill="#8cc24a"/><path d="M299.6 546.3L302.2 549.3L299.6 552.3L297.0 549.3Z" fill="#8cc24a"/>
<path d="M302.5 531.0L302.2 525.4L301.1 520.0L299.4 514.6L297.0 509.5L294.1 504.7L290.5 500.3L286.4 496.3L281.9 492.7L277.0 489.7L271.8 487.3L266.3 485.4L260.6 484.0L254.9 483.3L249.1 483.2L243.4 483.6L237.9 484.5L232.5 485.9L227.4 487.8L222.6 490.1L218.1 492.7L214.1 495.5L210.5 498.5L207.3 501.6L204.5 504.7L202.2 507.8L200.3 510.6L198.8 513.2L197.6 515.4L196.7 517.1L196.0 518.0L195.2 516.2L194.2 513.5L192.7 510.3L190.9 506.8L188.5 503.2L185.8 499.5L182.5 495.9L178.8 492.4L174.7 489.1L170.1 486.2L165.2 483.6L160.0 481.4L154.5 479.7L148.8 478.5L142.9 477.9L137.0 477.8L131.0 478.4L125.1 479.5L119.4 481.3L113.9 483.6L108.6 486.5L103.7 489.9L99.3 493.9L95.2 498.3L91.8 503.1L88.8 508.2L86.5 513.7L84.9 519.3L83.8 525.1L83.5 531.0L83.8 536.9L84.9 542.7L86.5 548.3L88.8 553.8L91.8 558.9L95.2 563.7L99.3 568.1L103.7 572.1L108.6 575.5L113.9 578.4L119.4 580.7L125.1 582.5L131.0 583.6L137.0 584.2L142.9 584.1L148.8 583.5L154.5 582.3L160.0 580.6L165.2 578.4L170.1 575.8L174.7 572.9L178.8 569.6L182.5 566.1L185.8 562.5L188.5 558.8L190.9 555.2L192.7 551.7L194.2 548.5L195.2 545.8L196.0 544.0L196.7 544.9L197.6 546.6L198.8 548.8L200.3 551.4L202.2 554.2L204.5 557.3L207.3 560.4L210.5 563.5L214.1 566.5L218.1 569.3L222.6 571.9L227.4 574.2L232.5 576.1L237.9 577.5L243.4 578.4L249.1 578.8L254.9 578.7L260.6 578.0L266.3 576.6L271.8 574.7L277.0 572.3L281.9 569.3L286.4 565.7L290.5 561.7L294.1 557.3L297.0 552.5L299.4 547.4L301.1 542.0L302.2 536.6L302.5 531.0Z" fill="none" stroke="#3f9a3c" stroke-width="1.15" stroke-linejoin="round"/>
<path d="M298.7 509.9L301.3 512.9L298.7 515.9L296.1 512.9Z" fill="#3f9a3c"/><path d="M271.8 484.3L274.4 487.3L271.8 490.3L269.2 487.3Z" fill="#3f9a3c"/><path d="M234.3 482.4L236.9 485.4L234.3 488.4L231.7 485.4Z" fill="#3f9a3c"/><path d="M206.3 499.7L208.9 502.7L206.3 505.7L203.7 502.7Z" fill="#3f9a3c"/><path d="M196.0 515.0L198.6 518.0L196.0 521.0L193.4 518.0Z" fill="#3f9a3c"/><path d="M183.6 494.1L186.2 497.1L183.6 500.1L181.0 497.1Z" fill="#3f9a3c"/><path d="M152.6 476.3L155.2 479.3L152.6 482.3L150.0 479.3Z" fill="#3f9a3c"/><path d="M113.9 480.6L116.5 483.6L113.9 486.6L111.3 483.6Z" fill="#3f9a3c"/><path d="M87.2 508.8L89.8 511.8L87.2 514.8L84.6 511.8Z" fill="#3f9a3c"/><path d="M87.2 547.2L89.8 550.2L87.2 553.2L84.6 550.2Z" fill="#3f9a3c"/><path d="M113.9 575.4L116.5 578.4L113.9 581.4L111.3 578.4Z" fill="#3f9a3c"/><path d="M152.6 579.7L155.2 582.7L152.6 585.7L150.0 582.7Z" fill="#3f9a3c"/><path d="M183.6 561.9L186.2 564.9L183.6 567.9L181.0 564.9Z" fill="#3f9a3c"/><path d="M196.0 541.0L198.6 544.0L196.0 547.0L193.4 544.0Z" fill="#3f9a3c"/><path d="M206.3 556.3L208.9 559.3L206.3 562.3L203.7 559.3Z" fill="#3f9a3c"/><path d="M234.3 573.6L236.9 576.6L234.3 579.6L231.7 576.6Z" fill="#3f9a3c"/><path d="M271.8 571.7L274.4 574.7L271.8 577.7L269.2 574.7Z" fill="#3f9a3c"/><path d="M298.7 546.1L301.3 549.1L298.7 552.1L296.1 549.1Z" fill="#3f9a3c"/>
<g font-size="18.5px" text-anchor="middle">
<text x="196.0" y="405">90</text>
<text x="198.0" y="668.5">270</text>
<text x="56.5" y="534.6" font-size="19px">180</text>
<text x="329" y="538.5">0</text>
<text x="25.5" y="424">1</text>
<text x="26" y="534.6">0</text>
<text transform="translate(15.5 458) rotate(-90)" text-anchor="middle" font-size="19.5px">|<tspan class="it">I</tspan><tspan font-size="11.5px" dy="2.5">pc</tspan><tspan dy="-2.5">| (a.u.)</tspan></text>
</g>
<path d="M36.5 406.5V527M34.5 406.5H36.5M34.5 472.5H36.5M34.5 527H36.5" stroke="#333" stroke-width="1" fill="none"/>
<text class="pl" x="3" y="398.5">d</text>
<text font-size="18.5px" x="340.5" y="400"><tspan class="it">V</tspan><tspan font-size="10.5px" dy="2.5">G</tspan><tspan dy="-2.5" dx="8">(V)</tspan></text>
<path d="M339 418.4H379" stroke="#7b4a22" stroke-width="1.3"/><circle cx="359.0" cy="418.4" r="2.3" fill="#7b4a22"/>
<text font-size="18.5px" text-anchor="end" x="402.5" y="425.0">-9</text>
<path d="M339 440.1H379" stroke="#b4622a" stroke-width="1.3"/><circle cx="359.0" cy="440.1" r="2.3" fill="#b4622a"/>
<text font-size="18.5px" text-anchor="end" x="402.5" y="446.7">-6</text>
<path d="M339 461.8H379" stroke="#f0932f" stroke-width="1.3"/><circle cx="359.0" cy="461.8" r="2.3" fill="#f0932f"/>
<text font-size="18.5px" text-anchor="end" x="402.5" y="468.4">-3</text>
<path d="M339 483.5H379" stroke="#f7d862" stroke-width="1.3"/><rect x="357.0" y="481.5" width="4" height="4" fill="#f7d862"/>
<text font-size="18.5px" text-anchor="end" x="402.5" y="490.1">0</text>
<path d="M339 505.2H379" stroke="#d3e35c" stroke-width="1.3"/><path d="M359.0 502.2L361.6 505.2L359.0 508.2L356.4 505.2Z" fill="#d3e35c"/>
<text font-size="18.5px" text-anchor="end" x="402.5" y="511.8">+3</text>
<path d="M339 526.9H379" stroke="#8cc24a" stroke-width="1.3"/><path d="M359.0 523.9L361.6 526.9L359.0 529.9L356.4 526.9Z" fill="#8cc24a"/>
<text font-size="18.5px" text-anchor="end" x="402.5" y="533.5">+6</text>
<path d="M339 549.2H379" stroke="#3f9a3c" stroke-width="1.3"/><path d="M359.0 546.2L361.6 549.2L359.0 552.2L356.4 549.2Z" fill="#3f9a3c"/>
<text font-size="18.5px" text-anchor="end" x="402.5" y="555.8">+9</text>
</g>
<!-- panel e -->
<g id="panel-e">
<text class="pl" x="478.2" y="398.5">e</text>
<g font-size="19.6px"><text x="500" y="393.2" textLength="54.5" lengthAdjust="spacingAndGlyphs">Input 1</text><text x="500" y="433.2" textLength="56" lengthAdjust="spacingAndGlyphs">Input 2</text></g>
<path d="M559.5 396H709.1V377.7H862.2" fill="none" stroke="#e8737b" stroke-width="1.3"/>
<path d="M501.7 404.8H862.2" fill="none" stroke="#9a9a9a" stroke-width="1.3" stroke-dasharray="4.3 2.6"/>
<path d="M559.5 436.1H634.4V417.4H709.1V436.1H787.5V417.4H862.2" fill="none" stroke="#4a90d9" stroke-width="1.3"/>
<rect x="643.6" y="552.6" width="212.6" height="89.4" fill="#e9e9e9"/>
<clipPath id="eclip"><rect x="563.5" y="453.5" width="298.70000000000005" height="196.89999999999998"/></clipPath>
<g clip-path="url(#eclip)" fill="none" stroke-width="1.2" stroke-linejoin="round"><path d="M563.5 660.0L569.9 662.0L571.7 634.0L574.0 637.0L576.2 662.0L587.8 662.0L589.6 633.0L591.9 636.0L594.1 662.0L599.8 662.0L601.6 630.0L603.8 633.0L606.1 662.0L606.5 662.0L608.3 638.0L610.5 641.0L612.8 662.0L616.2 662.0L618.0 641.0L620.3 644.0L622.5 662.0L625.9 662.0L627.7 646.0L630.0 649.0L632.2 662.0L632.2 660.0L634.9 632.0L637.1 505.0L639.7 504.8L643.4 504.4L647.1 504.6L650.9 504.0L654.6 504.6L658.3 504.5L662.1 504.9L665.8 504.7L669.5 504.2L673.3 504.3L677.0 504.6L680.7 503.9L684.5 504.4L688.2 504.1L691.9 504.0L695.7 504.0L699.4 504.7L703.1 504.0L706.9 504.1L710.6 504.3L714.3 504.8L718.1 504.0L721.8 504.3L725.5 504.4L729.3 504.8L733.0 504.7L736.7 504.8L740.5 504.2L744.2 504.3L747.9 504.3L751.7 504.8L755.4 504.9L759.1 504.1L762.9 504.1L766.6 504.1L770.3 504.1L774.1 504.4L777.8 504.5L781.6 504.2L783.8 503.5L786.8 490.8L789.8 489.7L793.5 490.2L797.2 490.1L801.0 490.4L804.7 490.8L808.4 490.5L812.2 490.3L815.9 490.4L819.6 490.5L823.4 489.8L827.1 490.8L830.8 490.6L834.6 490.7L838.3 490.7L842.0 490.2L845.8 490.2L849.5 489.8L853.2 490.5L857.0 489.8L860.7 489.8" stroke="#e2a84c"/><path d="M563.5 628.0L565.7 632.0L567.9 630.0L570.1 622.0L572.3 623.0L574.5 640.0L576.7 645.0L578.9 647.0L581.1 641.0L583.3 636.0L585.4 628.0L587.6 622.0L589.8 624.0L592.0 621.0L594.2 640.0L596.4 644.0L598.6 630.0L600.8 624.0L603.0 626.0L605.2 622.0L607.4 632.0L609.6 634.0L611.8 640.0L614.0 642.0L616.2 630.0L618.4 646.0L620.6 649.0L622.8 636.0L625.0 626.0L627.2 621.0L629.3 634.0L631.5 632.0L633.7 630.0L635.9 629.0L636.7 630.0L639.7 546.0L641.2 545.4L644.9 545.3L648.6 545.8L652.4 545.2L656.1 545.6L659.8 545.5L663.6 545.2L667.3 545.6L671.0 545.1L674.8 545.5L678.5 545.2L682.2 545.2L686.0 545.5L689.7 545.9L693.4 545.2L697.2 545.3L700.9 545.7L704.6 546.0L708.4 545.7L710.6 545.0L713.6 505.5L715.8 504.7L718.8 505.6L721.8 504.2L724.8 505.4L727.8 504.5L730.8 504.3L733.8 504.3L736.7 504.6L739.7 505.3L742.7 504.4L745.7 505.0L748.7 505.1L751.7 504.7L754.7 504.9L757.7 504.2L760.6 504.2L763.6 504.4L766.6 505.1L769.6 504.7L772.6 504.6L775.6 505.0L778.6 504.8L781.6 504.5L783.8 504.0L787.5 501.6L790.5 501.8L793.5 501.6L796.5 501.1L799.5 501.5L802.5 501.4L805.4 501.9L808.4 501.7L811.4 501.1L814.4 502.0L817.4 500.9L820.4 501.3L823.4 501.7L826.4 501.0L829.3 501.4L832.3 500.8L835.3 501.6L838.3 501.7L841.3 501.5L844.3 501.9L847.3 501.2L850.3 501.6L853.2 501.5L856.2 501.5L859.2 501.3L862.2 501.8" stroke="#f4838c"/></g>
<rect x="563.5" y="453.5" width="298.70000000000005" height="196.89999999999998" fill="none" stroke="#2a2a2a" stroke-width="1"/>
<path d="M563.5 485.8h4M563.5 471.8h2M563.5 463.6h2M563.5 457.7h2M563.5 532.4h4M563.5 518.4h2M563.5 510.2h2M563.5 504.3h2M563.5 499.8h2M563.5 496.1h2M563.5 493.0h2M563.5 490.3h2M563.5 487.9h2M563.5 579.0h4M563.5 565.0h2M563.5 556.8h2M563.5 550.9h2M563.5 546.4h2M563.5 542.7h2M563.5 539.6h2M563.5 536.9h2M563.5 534.5h2M563.5 625.6h4M563.5 611.6h2M563.5 603.4h2M563.5 597.5h2M563.5 593.0h2M563.5 589.3h2M563.5 586.2h2M563.5 583.5h2M563.5 581.1h2M563.5 650.0h2M563.5 644.1h2M563.5 639.6h2M563.5 635.9h2M563.5 632.8h2M563.5 630.1h2M563.5 627.7h2M638.2 650.4v-3.5M712.9 650.4v-3.5M787.5 650.4v-3.5" stroke="#2a2a2a" stroke-width="0.8" fill="none"/>
<g font-size="19.5px" text-anchor="middle">
<text x="563.5" y="670.4">0</text>
<text x="638.2" y="670.4">5</text>
<text x="712.9" y="670.4">10</text>
<text x="787.5" y="670.4">15</text>
<text x="862.2" y="670.4">20</text>
<text x="719.5" y="686.5">Time (s)</text>
</g>
<g font-size="19.5px">
<text x="528" y="490.5">10<tspan font-size="11px" dy="-10" dx="-0.8">-7</tspan></text>
<text x="528" y="532.5">10<tspan font-size="11px" dy="-10" dx="-0.8">-8</tspan></text>
<text x="528" y="575">10<tspan font-size="11px" dy="-10" dx="-0.8">-9</tspan></text>
<text x="528" y="618.5">10<tspan font-size="11px" dy="-10" dx="-0.8">-10</tspan></text>
<text transform="translate(518.5 548) rotate(-90)" text-anchor="middle" font-size="19.8px">|<tspan class="it">I</tspan><tspan font-size="12px" dy="2.5">pc</tspan><tspan dy="-2.5">| (A)</tspan></text>
</g>
<path d="M572 465.8H598" stroke="#e2a84c" stroke-width="1.2"/><path d="M572 485H598" stroke="#f4838c" stroke-width="1.2"/>
<g font-size="19px"><text x="600" y="471">Before</text><text x="600" y="491.6">After</text></g>
<g font-size="18.5px" text-anchor="middle">
<text x="603" y="596.7" fill="#2f7fc4">0</text><text x="676.7" y="533.2" fill="#2f7fc4">0</text>
<text x="676.5" y="496" fill="#cf1d1d">1</text><text x="751.5" y="493" fill="#cf1d1d">1</text><text x="825.5" y="481.5" fill="#cf1d1d">1</text>
</g>
<rect x="723.7" y="556.3" width="87.5" height="82.4" rx="8" ry="8" fill="#b497cf" stroke="#7f52b5" stroke-width="1"/>
<g font-size="14.8px" text-anchor="middle" fill="#1a1a1a"><text x="767.3" y="582">Polarization</text><text x="767.3" y="600.8">Response</text><text x="767.3" y="619.5">Suppression</text></g>
<g font-size="14.3px" text-anchor="middle" fill="#1a1a1a"><text x="683.5" y="566.3">Unpolarized</text><text x="682" y="633.2">Polarized</text></g>
<path d="M655.0 580.5L655.5 580.5L656.0 580.5L656.5 580.5L657.0 580.5L657.5 580.5L658.0 580.5L658.5 580.5L659.0 580.6L659.5 580.6L660.0 580.5L660.5 580.5L661.0 580.5L661.5 580.4L662.0 580.3L662.5 580.3L663.0 580.3L663.5 580.3L664.0 580.5L664.5 580.7L665.0 580.9L665.5 581.1L666.0 581.2L666.5 581.2L667.0 580.9L667.5 580.5L668.0 579.9L668.5 579.3L669.0 578.8L669.5 578.7L670.0 579.0L670.5 579.7L671.0 580.8L671.5 582.1L672.0 583.3L672.5 584.0L673.0 584.1L673.5 583.2L674.0 581.7L674.5 579.5L675.0 577.3L675.5 575.6L676.0 574.7L676.5 575.1L677.0 576.7L677.5 579.3L678.0 582.4L678.5 585.2L679.0 587.2L679.5 587.8L680.0 586.8L680.5 584.4L681.0 581.2L681.5 577.8L682.0 575.0L682.5 573.4L683.0 573.4L683.5 574.8L684.0 577.4L684.5 580.4L685.0 583.3L685.5 585.4L686.0 586.3L686.5 585.9L687.0 584.4L687.5 582.4L688.0 580.2L688.5 578.3L689.0 577.2L689.5 576.9L690.0 577.4L690.5 578.4L691.0 579.7L691.5 580.9L692.0 581.8L692.5 582.3L693.0 582.3L693.5 581.9L694.0 581.4L694.5 580.8L695.0 580.2L695.5 579.9L696.0 579.8L696.5 579.8L697.0 580.0L697.5 580.2L698.0 580.4L698.5 580.6L699.0 580.7L699.5 580.7L700.0 580.7" fill="none" stroke="#4a90d9" stroke-width="3" stroke-linejoin="round" stroke-linecap="round"/><path d="M697.5 575.3L709.5 580.5L697.5 585.7L701.0 580.5Z" fill="#4a90d9"/>
<path d="M655.0 614.5L655.5 614.5L656.0 614.5L656.5 614.5L657.0 614.5L657.5 614.5L658.0 614.5L658.5 614.5L659.0 614.6L659.5 614.6L660.0 614.5L660.5 614.5L661.0 614.5L661.5 614.4L662.0 614.3L662.5 614.3L663.0 614.3L663.5 614.3L664.0 614.5L664.5 614.7L665.0 614.9L665.5 615.1L666.0 615.2L666.5 615.2L667.0 614.9L667.5 614.5L668.0 613.9L668.5 613.3L669.0 612.8L669.5 612.7L670.0 613.0L670.5 613.7L671.0 614.8L671.5 616.1L672.0 617.3L672.5 618.0L673.0 618.1L673.5 617.2L674.0 615.7L674.5 613.5L675.0 611.3L675.5 609.6L676.0 608.7L676.5 609.1L677.0 610.7L677.5 613.3L678.0 616.4L678.5 619.2L679.0 621.2L679.5 621.8L680.0 620.8L680.5 618.4L681.0 615.2L681.5 611.8L682.0 609.0L682.5 607.4L683.0 607.4L683.5 608.8L684.0 611.4L684.5 614.4L685.0 617.3L685.5 619.4L686.0 620.3L686.5 619.9L687.0 618.4L687.5 616.4L688.0 614.2L688.5 612.3L689.0 611.2L689.5 610.9L690.0 611.4L690.5 612.4L691.0 613.7L691.5 614.9L692.0 615.8L692.5 616.3L693.0 616.3L693.5 615.9L694.0 615.4L694.5 614.8L695.0 614.2L695.5 613.9L696.0 613.8L696.5 613.8L697.0 614.0L697.5 614.2L698.0 614.4L698.5 614.6L699.0 614.7L699.5 614.7L700.0 614.7" fill="none" stroke="#1a2a9a" stroke-width="3" stroke-linejoin="round" stroke-linecap="round"/><path d="M697.5 609.3L709.5 614.5L697.5 619.7L701.0 614.5Z" fill="#1a2a9a"/>
<path d="M813.5 606.3H828.2V587.6H839.9V606.3H854" fill="none" stroke="#3f86d0" stroke-width="2"/>
</g>
<!-- panel f -->
<g id="panel-f">
<defs>
<clipPath id="fclip"><rect x="937.5" y="373.8" width="342.79999999999995" height="295.90000000000003"/></clipPath>
<linearGradient id="ffloor" x1="0" y1="0" x2="0" y2="1"><stop offset="0" stop-color="#5d646c"/><stop offset="0.15" stop-color="#7f868f"/><stop offset="0.4" stop-color="#a5adb9"/><stop offset="0.7" stop-color="#bbc5d3"/><stop offset="1" stop-color="#c6d0de"/></linearGradient>
<radialGradient id="ffloorx" gradientUnits="userSpaceOnUse" cx="1265" cy="530" r="120"><stop offset="0" stop-color="#cfb67e" stop-opacity="0.75"/><stop offset="0.4" stop-color="#d8cba8" stop-opacity="0.55"/><stop offset="1" stop-color="#e8e8ea" stop-opacity="0.0"/></radialGradient>
<linearGradient id="fsky" x1="0.35" y1="1" x2="1" y2="0"><stop offset="0" stop-color="#ffffff"/><stop offset="0.5" stop-color="#f8f7f6"/><stop offset="1" stop-color="#e9e7e4"/></linearGradient>
<linearGradient id="fsteel" x1="0" y1="0" x2="1" y2="0"><stop offset="0" stop-color="#474e57"/><stop offset="0.6" stop-color="#6c737d"/><stop offset="1" stop-color="#a4abb5"/></linearGradient><linearGradient id="fframe" x1="0" y1="0" x2="0" y2="1"><stop offset="0" stop-color="#3b4149"/><stop offset="0.45" stop-color="#555c67"/><stop offset="1" stop-color="#8693a8"/></linearGradient>
<linearGradient id="fsteel2" x1="0" y1="0" x2="1" y2="0"><stop offset="0" stop-color="#8d949e"/><stop offset="0.45" stop-color="#d5d9df"/><stop offset="1" stop-color="#a7adb6"/></linearGradient>
<linearGradient id="froofL" x1="0" y1="1" x2="1" y2="0"><stop offset="0" stop-color="#5d646d"/><stop offset="1" stop-color="#a9afb8"/></linearGradient>
<linearGradient id="fglassL" x1="0" y1="0" x2="0" y2="1"><stop offset="0" stop-color="#9ca7b8"/><stop offset="0.5" stop-color="#6d788a"/><stop offset="1" stop-color="#909db2"/></linearGradient>
<linearGradient id="fglassR" x1="0" y1="0" x2="0" y2="1"><stop offset="0" stop-color="#c5cbd6"/><stop offset="1" stop-color="#b4bfd1"/></linearGradient>
<radialGradient id="fcore" cx="0.5" cy="0.5" r="0.5"><stop offset="0" stop-color="#ffffff"/><stop offset="0.62" stop-color="#ffffff"/><stop offset="0.8" stop-color="#fff6d8" stop-opacity="0.85"/><stop offset="1" stop-color="#fbd778" stop-opacity="0"/></radialGradient>
<radialGradient id="fhalo" cx="0.5" cy="0.5" r="0.5"><stop offset="0" stop-color="#fff6d2" stop-opacity="0.95"/><stop offset="0.45" stop-color="#fae08e" stop-opacity="0.65"/><stop offset="0.75" stop-color="#f3cc68" stop-opacity="0.28"/><stop offset="1" stop-color="#f0c050" stop-opacity="0"/></radialGradient>
<radialGradient id="fskyg" cx="0.5" cy="0.5" r="0.5"><stop offset="0" stop-color="#d3d0cb" stop-opacity="0.95"/><stop offset="0.6" stop-color="#dad8d4" stop-opacity="0.7"/><stop offset="1" stop-color="#e8e6e3" stop-opacity="0"/></radialGradient>
<linearGradient id="ffloorw" x1="0" y1="0" x2="1" y2="0"><stop offset="0" stop-color="#ffffff" stop-opacity="0"/><stop offset="0.45" stop-color="#ffffff" stop-opacity="0"/><stop offset="1" stop-color="#f4f3f1" stop-opacity="0.75"/></linearGradient>
<filter id="fblur" x="-20%" y="-20%" width="140%" height="140%"><feGaussianBlur stdDeviation="1.6"/></filter>
<filter id="fblur2" x="-20%" y="-20%" width="140%" height="140%"><feGaussianBlur stdDeviation="5"/></filter>
</defs>
<g clip-path="url(#fclip)">
<rect x="937.5" y="373.8" width="342.79999999999995" height="154.90000000000003" fill="url(#fsky)"/>
<ellipse cx="1195" cy="420" rx="120" ry="78" fill="url(#fskyg)" transform="rotate(18 1195 420)"/>
<rect x="937.5" y="528.7" width="342.79999999999995" height="141.0" fill="url(#ffloor)"/>
<rect x="937.5" y="528.7" width="342.79999999999995" height="141.0" fill="url(#ffloorw)"/>
<rect x="937.5" y="528.7" width="342.79999999999995" height="141.0" fill="url(#ffloorx)"/>
<path d="M1089.4 397.2L972.2 425.8L1088.0 417.2Z" fill="url(#froofL)"/>
<path d="M1089.4 397.2L1088.0 417.2L1198.1 422.9Z" fill="#bdbcb2"/>
<path d="M1089.4 397.2L1078.0 404.3L1095.1 405.7Z" fill="#4d545d"/>
<path d="M1089.4 397.2L1029.4 412.9L1033.7 414.3Z" fill="#3f464f"/>
<path d="M1089.4 397.2L1088.0 417.2L1091.7 417.2Z" fill="#444b54"/>
<path d="M1089.4 397.2L1143.8 419.2L1148.0 418.6Z" fill="#8d8f8c"/>
<path d="M959.3 441.5L972.2 425.8L1088.0 417.2L1088.0 432.3L986.5 444.9L963.6 455.2Z" fill="url(#fsteel)"/>
<path d="M1088.0 417.2L1198.1 422.9L1242.4 462.9L1242.4 469.5L1198.1 438.1L1088.0 432.3Z" fill="#b9ae88"/>
<path d="M963.6 436.3L973.6 428.6L1088.0 420.6L1088.0 422.9L975.0 431.2L964.7 438.6Z" fill="#8f96a0"/>
<path d="M961.3 444.9L975.0 435.2L1088.0 426.0L1088.0 427.8L976.5 437.5L962.5 447.2Z" fill="#30363e"/>
<path d="M1088.0 426.0L1198.1 431.8L1241.5 466.7L1241.5 468.1L1198.1 433.5L1088.0 427.8Z" fill="#a9a48f"/>
<path d="M1088.0 420.6L1198.1 426.3L1241.0 464.4L1241.0 466.1L1198.1 428.6L1088.0 422.9Z" fill="#e9e3c8"/>
<path d="M972.2 454.4L987.9 446.6L987.9 645.1L972.2 628.8Z" fill="url(#fframe)"/>
<path d="M975.0 458.6L985.3 454.4L985.3 468.7L975.0 471.5Z" fill="#8b96a8"/>
<path d="M975.0 477.2L985.3 474.4L985.3 637.4L975.0 625.9Z" fill="url(#fglassL)"/>
<path d="M987.9 444.9L1086.6 432.9L1086.6 658.2L987.9 645.1Z" fill="url(#fframe)"/>
<path d="M997.9 444.9L1076.5 438.6L1076.5 457.2L997.9 462.1Z" fill="#97a3b6"/>
<path d="M1006.5 480.1L1067.1 477.2L1067.1 644.5L1006.5 637.4Z" fill="url(#fglassL)"/>
<path d="M998.5 467.2L1003.6 466.9L1003.6 640.2L998.5 638.8Z" fill="#8b93a0"/>
<path d="M998.5 464.4L1076.5 460.1L1076.5 462.9L998.5 467.5Z" fill="#30353c"/>
<path d="M1017.9 469.2L1037.9 467.2L1037.9 470.7L1017.9 472.9Z" fill="#2e3339"/>
<path d="M1076.5 433.5L1098.0 433.5L1098.0 656.5L1086.6 658.8L1076.5 656.8Z" fill="url(#fsteel2)"/>
<path d="M1098.0 433.5L1186.6 438.6L1186.6 645.1L1098.0 656.0Z" fill="#9aa0a8"/>
<path d="M1099.7 440.1L1178.1 441.5L1178.1 458.1L1099.7 464.4Z" fill="#d8dbdf"/>
<path d="M1098.6 467.8L1179.5 460.9L1179.5 646.0L1098.6 654.5Z" fill="url(#fglassR)"/>
<path d="M1106.6 598.8L1118.0 587.3L1123.7 598.8L1120.9 621.6L1109.4 624.5Z" fill="#a7aebb"/>
<path d="M1132.3 581.6L1152.3 604.5L1146.6 615.9L1135.2 598.8Z" fill="#a3aab7"/>
<path d="M1186.6 438.6L1235.3 468.7L1235.3 607.3L1186.6 645.1Z" fill="#d9cfae"/>
<path d="M1191.8 468.4L1203.8 475.8L1203.8 628.9L1191.8 638.2Z" fill="#f1ead2"/>
<path d="M1191.8 447.0L1203.8 454.4L1203.8 470.1L1191.8 462.7Z" fill="#ece0b8"/>
<path d="M1207.2 477.9L1216.7 483.8L1216.7 618.9L1207.2 626.2Z" fill="#f1ead2"/>
<path d="M1207.2 456.5L1216.7 462.3L1216.7 478.1L1207.2 472.2Z" fill="#ece0b8"/>
<path d="M1219.8 485.7L1226.1 489.6L1226.1 611.6L1219.8 616.5Z" fill="#f1ead2"/>
<path d="M1219.8 464.3L1226.1 468.2L1226.1 483.9L1219.8 480.0Z" fill="#ece0b8"/>
<path d="M1228.4 491.0L1233.5 494.2L1233.5 605.8L1228.4 609.8Z" fill="#f1ead2"/>
<path d="M1228.4 469.6L1233.5 472.7L1233.5 488.5L1228.4 485.3Z" fill="#ece0b8"/>
<ellipse cx="1175.2" cy="521.5" rx="135" ry="125" fill="url(#fhalo)"/>
<g filter="url(#fblur)"><path d="M1193.2 526.7L1278.7 521.0L1193.2 516.2Z" fill="#fcefc4" opacity="0.68"/><path d="M1192.5 528.5L1262.5 532.4L1193.7 518.9Z" fill="#fcefc4" opacity="0.75"/><path d="M1192.2 528.3L1257.4 538.6L1193.5 522.0Z" fill="#f7dc8a" opacity="0.72"/><path d="M1191.1 530.8L1277.0 553.3L1193.6 522.9Z" fill="#fcefc4" opacity="0.89"/><path d="M1191.0 530.5L1274.1 559.3L1193.0 525.4Z" fill="#f7dc8a" opacity="0.83"/><path d="M1189.9 533.1L1250.6 552.5L1193.8 523.6Z" fill="#fff7dc" opacity="0.51"/><path d="M1188.3 534.8L1260.7 570.4L1193.3 526.1Z" fill="#fff7dc" opacity="0.59"/><path d="M1188.8 533.6L1241.9 566.1L1191.5 529.4Z" fill="#f4d06e" opacity="0.66"/><path d="M1187.3 535.0L1266.0 598.6L1190.5 531.3Z" fill="#f4d06e" opacity="0.63"/><path d="M1186.6 535.6L1242.2 584.8L1190.0 532.1Z" fill="#f7dc8a" opacity="0.66"/><path d="M1182.0 539.0L1234.3 597.4L1190.5 532.4Z" fill="#f7dc8a" opacity="0.59"/><path d="M1182.0 538.5L1219.3 590.9L1187.8 534.8Z" fill="#fcefc4" opacity="0.67"/><path d="M1180.2 539.3L1218.8 598.3L1187.9 535.0Z" fill="#f4d06e" opacity="0.53"/><path d="M1178.9 539.7L1228.0 629.8L1187.3 535.6Z" fill="#f7dc8a" opacity="0.55"/><path d="M1177.5 539.7L1201.1 597.7L1184.5 537.3Z" fill="#fcefc4" opacity="0.57"/><path d="M1177.0 539.6L1200.2 617.1L1182.5 538.2Z" fill="#fae6a8" opacity="0.67"/><path d="M1173.2 540.2L1193.1 616.4L1183.9 538.2Z" fill="#f7dc8a" opacity="0.61"/><path d="M1172.7 539.6L1179.5 635.2L1179.1 539.4Z" fill="#f7dc8a" opacity="0.58"/><path d="M1171.1 539.5L1176.5 637.4L1179.7 539.5Z" fill="#f7dc8a" opacity="0.52"/><path d="M1172.1 539.4L1170.3 619.9L1176.5 539.6Z" fill="#fff7dc" opacity="0.63"/><path d="M1170.0 538.9L1162.5 603.6L1174.9 539.7Z" fill="#fff7dc" opacity="0.75"/><path d="M1167.3 538.2L1155.2 614.9L1175.6 540.0Z" fill="#fae6a8" opacity="0.88"/><path d="M1164.3 536.7L1139.8 619.4L1173.8 540.1Z" fill="#fae6a8" opacity="0.75"/><path d="M1164.1 536.3L1139.0 603.4L1171.8 539.7Z" fill="#fae6a8" opacity="0.56"/><path d="M1162.2 534.7L1122.4 610.2L1169.8 539.3Z" fill="#fcefc4" opacity="0.85"/><path d="M1162.6 534.7L1118.3 600.9L1166.8 537.6Z" fill="#f7dc8a" opacity="0.7"/><path d="M1161.3 533.4L1106.0 608.4L1166.7 537.8Z" fill="#fcefc4" opacity="0.83"/><path d="M1160.4 532.1L1109.3 586.1L1164.3 536.1Z" fill="#f7dc8a" opacity="0.55"/><path d="M1158.7 529.9L1093.0 590.7L1164.2 536.3Z" fill="#f7dc8a" opacity="0.61"/><path d="M1158.8 529.3L1100.5 569.1L1161.2 533.1Z" fill="#f4d06e" opacity="0.66"/><path d="M1158.2 528.2L1105.3 564.3L1161.5 533.6Z" fill="#fff7dc" opacity="0.73"/><path d="M1156.8 525.2L1090.5 565.0L1161.5 534.3Z" fill="#f4d06e" opacity="0.76"/><path d="M1157.3 524.8L1076.3 555.3L1159.0 529.8Z" fill="#f7dc8a" opacity="0.87"/><path d="M1157.0 523.1L1083.5 546.3L1158.7 529.3Z" fill="#f7dc8a" opacity="0.51"/><path d="M1156.7 519.8L1076.2 537.5L1158.2 528.9Z" fill="#f4d06e" opacity="0.55"/><path d="M1156.9 520.5L1077.0 534.5L1157.8 527.3Z" fill="#f7dc8a" opacity="0.86"/><path d="M1157.3 516.2L1065.7 518.8L1157.1 525.9Z" fill="#f4d06e" opacity="0.64"/><path d="M1157.8 514.5L1058.0 509.0L1156.8 524.6Z" fill="#fcefc4" opacity="0.88"/><path d="M1157.6 517.0L1075.0 508.9L1157.1 521.5Z" fill="#fcefc4" opacity="0.65"/><path d="M1158.1 515.3L1094.0 504.1L1157.1 520.2Z" fill="#f7dc8a" opacity="0.9"/><path d="M1159.9 511.5L1072.9 479.6L1157.2 517.9Z" fill="#fff7dc" opacity="0.68"/><path d="M1160.5 510.4L1081.9 478.4L1157.2 517.5Z" fill="#fff7dc" opacity="0.51"/><path d="M1161.2 509.8L1089.0 470.5L1158.2 514.9Z" fill="#f7dc8a" opacity="0.7"/><path d="M1162.4 508.5L1078.8 452.3L1158.8 513.5Z" fill="#f7dc8a" opacity="0.65"/><path d="M1163.4 507.4L1091.8 456.6L1158.6 513.5Z" fill="#f4d06e" opacity="0.76"/><path d="M1164.7 506.5L1091.6 439.0L1160.1 511.2Z" fill="#f4d06e" opacity="0.58"/><path d="M1167.5 504.4L1101.4 434.8L1159.6 511.2Z" fill="#fae6a8" opacity="0.65"/><path d="M1167.2 505.2L1122.4 444.6L1162.8 508.2Z" fill="#fcefc4" opacity="0.64"/><path d="M1169.0 504.4L1137.3 449.1L1164.7 506.7Z" fill="#f4d06e" opacity="0.83"/><path d="M1171.6 503.1L1129.4 432.8L1162.3 507.9Z" fill="#fcefc4" opacity="0.65"/><path d="M1173.4 503.0L1138.4 419.7L1164.8 506.1Z" fill="#fff7dc" opacity="0.68"/><path d="M1174.6 502.8L1150.7 444.0L1164.9 505.9Z" fill="#f7dc8a" opacity="0.77"/><path d="M1175.9 503.0L1156.6 428.5L1167.4 504.7Z" fill="#fff7dc" opacity="0.51"/><path d="M1175.2 503.4L1162.8 423.2L1170.7 503.9Z" fill="#f4d06e" opacity="0.59"/><path d="M1178.8 503.4L1172.1 439.6L1170.2 503.7Z" fill="#fcefc4" opacity="0.54"/><path d="M1180.2 503.9L1184.9 415.1L1173.4 503.3Z" fill="#f7dc8a" opacity="0.77"/><path d="M1180.5 504.1L1189.4 422.6L1175.0 503.3Z" fill="#f7dc8a" opacity="0.8"/><path d="M1182.8 504.9L1196.6 442.8L1177.1 503.4Z" fill="#f4d06e" opacity="0.72"/><path d="M1187.2 507.0L1214.2 428.3L1177.1 502.8Z" fill="#fae6a8" opacity="0.66"/><path d="M1185.5 506.5L1228.3 416.1L1181.1 504.3Z" fill="#fcefc4" opacity="0.55"/><path d="M1188.6 508.4L1227.9 429.2L1179.6 503.3Z" fill="#fcefc4" opacity="0.72"/><path d="M1189.7 509.8L1234.5 439.6L1181.8 504.0Z" fill="#f4d06e" opacity="0.69"/><path d="M1190.5 510.9L1233.2 454.5L1183.5 504.9Z" fill="#f7dc8a" opacity="0.59"/><path d="M1192.1 513.3L1264.4 439.5L1184.8 505.3Z" fill="#fff7dc" opacity="0.89"/><path d="M1192.3 514.2L1247.5 466.2L1186.7 506.9Z" fill="#f7dc8a" opacity="0.64"/><path d="M1191.9 513.7L1253.4 461.5L1187.0 507.4Z" fill="#f4d06e" opacity="0.69"/><path d="M1191.6 513.8L1271.0 459.7L1189.0 509.7Z" fill="#f7dc8a" opacity="0.57"/><path d="M1192.5 516.0L1276.9 471.9L1190.2 511.2Z" fill="#fae6a8" opacity="0.9"/><path d="M1193.7 520.3L1272.2 490.7L1191.0 511.8Z" fill="#fcefc4" opacity="0.88"/><path d="M1193.2 519.2L1291.0 490.4L1191.9 514.4Z" fill="#fae6a8" opacity="0.68"/><path d="M1193.6 522.5L1288.5 502.2L1192.3 514.5Z" fill="#fae6a8" opacity="0.71"/><path d="M1193.3 523.8L1278.6 516.2L1193.0 517.4Z" fill="#fcefc4" opacity="0.88"/><path d="M1192.8 529.4L1295.0 527.8L1193.5 515.5Z" fill="#ecc060" opacity="0.85"/><path d="M1193.4 525.9L1287.1 517.6L1193.0 515.9Z" fill="#f2cc70" opacity="0.8"/><path d="M1193.3 514.7L1286.7 421.1L1183.9 504.3Z" fill="#e9c98a" opacity="0.55"/><path d="M1191.1 509.9L1257.7 378.6L1177.3 501.9Z" fill="#ffffff" opacity="0.5"/><path d="M1181.6 539.4L1267.5 639.7L1191.0 532.0Z" fill="#f5c65a" opacity="0.75"/><path d="M1178.9 539.8L1231.9 632.9L1187.8 535.3Z" fill="#f9d67a" opacity="0.7"/><path d="M1172.2 501.6L1074.8 378.1L1157.5 511.9Z" fill="#ffffff" opacity="0.55"/><path d="M1175.9 501.8L1111.5 363.9L1161.0 507.8Z" fill="#ffffff" opacity="0.5"/><path d="M1165.9 504.6L1060.3 425.1L1156.9 515.3Z" fill="#fff3cf" opacity="0.5"/><path d="M1159.4 532.0L1101.3 616.1L1168.8 539.4Z" fill="#f7ce6a" opacity="0.7"/><path d="M1156.4 523.7L1061.9 574.3L1161.4 534.5Z" fill="#f8d070" opacity="0.6"/><path d="M1160.3 509.7L1062.4 480.5L1156.2 521.0Z" fill="#fbe3a2" opacity="0.6"/><path d="M1194.2 521.0L1297.4 477.0L1190.1 509.7Z" fill="#f1b64a" opacity="0.7"/><path d="M1189.0 534.5L1282.1 571.4L1194.0 523.7Z" fill="#f3b848" opacity="0.8"/><path d="M1166.2 538.2L1154.4 639.7L1178.0 540.3Z" fill="#f9d67a" opacity="0.65"/><path d="M1186.2 505.2L1201.2 373.8L1170.4 502.4Z" fill="#fffaf0" opacity="0.5"/></g>
<g filter="url(#fblur2)"><path d="M1133.2 467.5L1219.2 461.5L1227.2 573.5L1195.2 583.5L1141.2 581.5L1123.2 533.5Z" fill="#ffffff"/><path d="M1145.2 459.5L1215.2 455.5L1223.2 501.5L1139.2 501.5Z" fill="#fffdf2"/></g>
<ellipse cx="1175.2" cy="521.5" rx="70" ry="74" fill="url(#fcore)"/>
</g>
<rect x="937.5" y="373.8" width="342.79999999999995" height="295.90000000000003" fill="none" stroke="#3c3c3c" stroke-width="1"/>
<text class="pl" x="945.5" y="398.6">f</text>
<g font-size="19.3px" fill="#151515"><text x="1224.5" y="505.8">Glare</text><text x="1009" y="553.6">Low-E</text><text x="1009" y="576.5">Glass</text></g>
</g>
<!-- panel g -->
<defs><linearGradient id="ghbar" x1="0" y1="0" x2="0" y2="1"><stop offset="0" stop-color="#405c9f"/><stop offset="0.5" stop-color="#96a5cb"/><stop offset="1" stop-color="#ececef"/></linearGradient><linearGradient id="hdoor" x1="0" y1="0" x2="0" y2="1"><stop offset="0" stop-color="#8c9dc7"/><stop offset="1" stop-color="#9dabd0"/></linearGradient></defs>
<g id="panel-g">
<rect x="2.9" y="740.2" width="330.6" height="300" fill="#ededef"/>
<g transform="translate(2.9 740.2)" shape-rendering="crispEdges">
<path d="M240.6 38.9L249.3 35.5L256.6 33.1L262.4 38.4L272.6 38.4L279.9 44.8L298.8 51.4L316.2 63.1L327.8 79.0L330.7 111.0L330.7 241.8L313.3 250.5L324.9 275.2L319.1 278.1L304.6 256.3L284.2 263.6L255.2 169.1Z" fill="#a3b0d3"/>
<path d="M156.3 21.5L138.9 26.7L115.7 34.0L89.5 41.8L40.1 51.4L22.7 71.8L25.6 80.5L35.7 84.9L35.7 256.3L51.7 281.0L144.7 292.6L168.0 292.6L258.1 282.5L307.5 241.8L307.5 100.8L314.7 97.9L314.7 89.2L271.1 48.5L234.8 41.3L197.0 31.1L173.8 23.8Z" fill="#405c9f"/>
<path d="M47.4 109.6L51.1 109.6L51.1 252.0L47.4 252.0Z" fill="#9faed1"/>
<path d="M47.4 89.2L51.1 89.2L51.1 93.6L47.4 93.6Z" fill="#9faed1"/>
<path d="M80.8 115.4L100.6 115.4L100.6 237.4L80.8 244.7Z" fill="#9faed1"/>
<path d="M82.2 106.7L100.6 106.7L100.6 111.0L82.2 111.0Z" fill="#9faed1"/>
<path d="M109.3 119.7L124.4 119.7L124.4 236.0L109.3 236.0Z" fill="#9faed1"/>
<path d="M109.3 106.7L124.4 106.7L124.4 113.9L109.3 113.9Z" fill="#9faed1"/>
<path d="M132.5 106.7L134.8 106.7L134.8 227.3L132.5 227.3Z" fill="#9faed1"/>
<path d="M75.0 252.0L134.8 234.5L134.8 275.2L76.4 267.9Z" fill="#9faed1"/>
<path d="M85.1 74.7L109.9 68.3L118.0 69.7L99.7 79.9Z" fill="#9faed1"/>
<path d="M118.0 82.5L138.9 71.8L144.1 73.2L130.2 85.4Z" fill="#9faed1"/>
<path d="M167.4 95.0L245.0 95.0L245.0 276.7L167.4 284.8Z" fill="#4b65a5"/>
<path d="M167.4 95.0L245.0 95.0L245.0 131.4L167.4 131.4Z" fill="#536cab"/>
<path d="M167.4 256.3L182.5 254.3L211.6 260.7L245.0 263.6L245.0 276.7L167.4 284.8Z" fill="#9dacd0"/>
<path d="M186.0 127.0L193.5 129.9L194.1 141.5L204.3 150.2L209.2 169.1L210.4 192.4L206.6 195.3L203.4 185.1L202.3 198.2L218.0 242.4L220.9 248.2L213.3 254.0L211.0 247.0L194.7 212.7L185.4 244.7L183.1 254.3L169.7 252.8L175.2 247.0L179.6 198.2L173.8 180.8L173.2 166.2L175.5 148.8L181.9 143.0L178.4 134.3L181.1 128.5Z" fill="#405c9f"/>
<path d="M262.4 103.7L268.2 103.7L268.2 267.9L262.4 267.9Z" fill="#4862a3"/>
<path d="M276.1 109.6L281.3 109.6L281.3 253.4L276.1 253.4Z" fill="#4862a3"/>
<path d="M288.6 113.9L292.9 113.9L292.9 244.7L288.6 244.7Z" fill="#4862a3"/>
<path d="M168.0 79.0L173.8 78.5L173.8 82.0L168.0 83.4Z" fill="#4d67a7"/>
<path d="M179.6 73.8L194.1 67.4L197.0 69.7L184.0 76.7Z" fill="#4d67a7"/>
<path d="M198.5 84.3L223.2 72.7L245.0 80.5L245.0 87.8L202.8 87.8Z" fill="#4d67a7"/>
</g>
<rect x="344.8" y="739.4" width="19" height="296.6" fill="url(#ghbar)"/>
<text class="pl" x="9" y="765">g</text>
<g font-size="19.5px"><text x="364.8" y="753.6">+1</text><text x="367.5" y="1035.6">0</text>
<text transform="translate(386.5 885.5) rotate(90)" text-anchor="middle"><tspan class="it">I</tspan><tspan font-size="10px" dy="0.8" dx="0.3" letter-spacing="-0.6">pc</tspan><tspan dy="-0.8">(a.u.)</tspan></text></g>
</g>
<!-- panel h -->
<g id="panel-h">
<rect x="471.4" y="740.2" width="330.6" height="300" fill="#ededef"/>
<g transform="translate(471.4 740.2)" shape-rendering="crispEdges">
<path d="M240.6 38.9L249.3 35.5L256.6 33.1L262.4 38.4L272.6 38.4L279.9 44.8L298.8 51.4L316.2 63.1L327.8 79.0L330.7 111.0L330.7 241.8L313.3 250.5L324.9 275.2L319.1 278.1L304.6 256.3L284.2 263.6L255.2 169.1Z" fill="#dfe2ec"/>
<path d="M156.3 21.5L138.9 26.7L115.7 34.0L89.5 41.8L40.1 51.4L22.7 71.8L25.6 80.5L35.7 84.9L35.7 256.3L51.7 281.0L144.7 292.6L168.0 292.6L258.1 282.5L307.5 241.8L307.5 100.8L314.7 97.9L314.7 89.2L271.1 48.5L234.8 41.3L197.0 31.1L173.8 23.8Z" fill="#405c9f"/>
<path d="M47.4 109.6L51.1 109.6L51.1 252.0L47.4 252.0Z" fill="#a3b1d3"/>
<path d="M47.4 89.2L51.1 89.2L51.1 93.6L47.4 93.6Z" fill="#a3b1d3"/>
<path d="M80.8 115.4L100.6 115.4L100.6 237.4L80.8 244.7Z" fill="#a3b1d3"/>
<path d="M82.2 106.7L100.6 106.7L100.6 111.0L82.2 111.0Z" fill="#a3b1d3"/>
<path d="M109.3 119.7L124.4 119.7L124.4 236.0L109.3 236.0Z" fill="#a3b1d3"/>
<path d="M109.3 106.7L124.4 106.7L124.4 113.9L109.3 113.9Z" fill="#a3b1d3"/>
<path d="M132.5 106.7L134.8 106.7L134.8 227.3L132.5 227.3Z" fill="#a3b1d3"/>
<path d="M75.0 252.0L134.8 234.5L134.8 275.2L76.4 267.9Z" fill="#a3b1d3"/>
<path d="M85.1 74.7L109.9 68.3L118.0 69.7L99.7 79.9Z" fill="#a3b1d3"/>
<path d="M118.0 82.5L138.9 71.8L144.1 73.2L130.2 85.4Z" fill="#a3b1d3"/>
<path d="M168.0 79.0L173.8 78.5L173.8 82.0L168.0 83.4Z" fill="#a3b1d3"/>
<path d="M179.6 73.8L194.1 67.4L197.0 69.7L184.0 76.7Z" fill="#a3b1d3"/>
<path d="M198.5 84.3L223.2 72.7L245.0 80.5L245.0 87.8L202.8 87.8Z" fill="#a3b1d3"/>
<path d="M262.4 103.7L268.2 103.7L268.2 267.9L262.4 267.9Z" fill="#a3b1d3"/>
<path d="M276.1 109.6L281.3 109.6L281.3 253.4L276.1 253.4Z" fill="#a3b1d3"/>
<path d="M288.6 113.9L292.9 113.9L292.9 244.7L288.6 244.7Z" fill="#a3b1d3"/>
<path d="M288.6 96.5L292.9 96.5L292.9 105.2L288.6 105.2Z" fill="#a3b1d3"/>
<path d="M263.9 87.2L268.2 87.2L268.2 92.1L263.9 92.1Z" fill="#a3b1d3"/>
<path d="M277.0 92.1L280.7 92.1L280.7 97.9L277.0 97.9Z" fill="#a3b1d3"/>
<path d="M167.4 95.0L245.0 95.0L245.0 276.7L167.4 284.8Z" fill="url(#hdoor)"/>
<path d="M167.4 256.3L182.5 254.3L211.6 260.7L245.0 263.6L245.0 276.7L167.4 284.8Z" fill="#a6b3d5"/>
<path d="M210.1 254.9L226.1 257.8L243.5 256.3L243.5 266.5L214.5 267.9Z" fill="#909fc9"/>
<path d="M186.0 127.0L193.5 129.9L194.1 141.5L204.3 150.2L209.2 169.1L210.4 192.4L206.6 195.3L203.4 185.1L202.3 198.2L218.0 242.4L220.9 248.2L213.3 254.0L211.0 247.0L194.7 212.7L185.4 244.7L183.1 254.3L169.7 252.8L175.2 247.0L179.6 198.2L173.8 180.8L173.2 166.2L175.5 148.8L181.9 143.0L178.4 134.3L181.1 128.5Z" fill="#405c9f"/>
</g>
<rect x="813.2" y="739.4" width="19" height="296.6" fill="url(#ghbar)"/>
<text class="pl" x="478.5" y="764.5">h</text>
<g font-size="19.5px"><text x="834.5" y="753.6">+1</text><text x="835.5" y="1035.6">0</text>
<text transform="translate(853.5 884.5) rotate(90)" text-anchor="middle"><tspan class="it">I</tspan><tspan font-size="10px" dy="0.8" dx="0.3" letter-spacing="-0.6">pc</tspan><tspan dy="-0.8">(a.u.)</tspan></text></g>
</g>
<!-- panel i -->
<g id="panel-i">
<rect x="953.1" y="940.3" width="68.8" height="78.8" fill="#8ec4e8" stroke="#7a7a7a" stroke-width="1"/>
<rect x="1066.1" y="820.4" width="68.2" height="198.7" fill="#8ec4e8" stroke="#7a7a7a" stroke-width="1"/>
<rect x="1179.1" y="778.5" width="67.5" height="240.6" fill="#8ec4e8" stroke="#7a7a7a" stroke-width="1"/>
<rect x="937.5" y="739.3" width="324.7" height="279.8" fill="none" stroke="#6a6a6a" stroke-width="1.1"/>
<path d="M1257.2 879.2H1262.2" stroke="#6a6a6a" stroke-width="1" fill="none"/>
<text class="pl" x="945" y="765.5">i</text>
<g font-size="19.5px" text-anchor="middle">
<text x="987.5" y="934.8">0.28</text>
<text x="1100.5" y="814.5">0.71</text>
<text x="1213" y="771.5">0.86</text>
<text x="987.5" y="1041.5">0</text>
<text x="1100.2" y="1041.5">45</text>
<text x="1212.8" y="1041.5">90</text>
<text x="1103.5" y="1062"><tspan class="it">θ</tspan> (°)</text>
</g>
<g font-size="19.5px">
<text x="1267" y="752.5">1.0</text>
<text x="1267" y="887.5">0.5</text>
<text x="1267" y="1022.5">0.0</text>
<text transform="translate(1308 875.5) rotate(90)" text-anchor="middle">Confidence</text>
</g>
</g>
</svg>
</body>
</html>
